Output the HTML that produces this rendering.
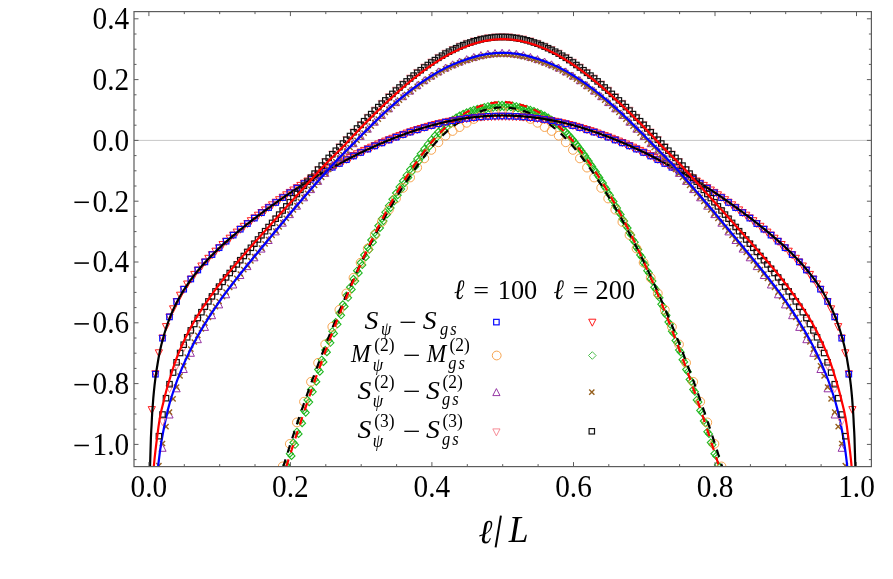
<!DOCTYPE html><html><head><meta charset="utf-8"><title>plot</title><style>html,body{margin:0;padding:0;background:#fff}svg{display:block;will-change:transform}text{font-family:"Liberation Serif",serif;fill:#000}</style></head><body>
<svg width="893" height="579" viewBox="0 0 893 579">
<defs>
<clipPath id="cp"><rect x="134.0" y="11.6" width="737.4" height="455.0"/></clipPath>
<rect id="mA" x="-2.75" y="-2.75" width="5.5" height="5.5" fill="none" stroke="#0a0aff" stroke-width="1.2"/>
<path id="mB" d="M-3.6 -3.4H3.6L0 3.6Z" fill="none" stroke="#ff1a1a" stroke-width="1"/>
<circle id="mC" r="4.4" fill="none" stroke="#f59a3c" stroke-width="0.9"/>
<path id="mD" d="M0 -3.5L3.5 0L0 3.5L-3.5 0Z" fill="none" stroke="#22b822" stroke-width="1.1"/>
<path id="mD2" d="M0 -3.8L3.8 0L0 3.8L-3.8 0Z" fill="none" stroke="#3cb83c" stroke-width="0.9"/>
<path id="mE" d="M-3.6 3.4H3.6L0 -3.6Z" fill="none" stroke="#8a1f9a" stroke-width="0.9"/>
<path id="mF" d="M-2.6 -2.6L2.6 2.6M-2.6 2.6L2.6 -2.6" fill="none" stroke="#96601e" stroke-width="1.4"/>
<path id="mG" d="M-3.6 -3.4H3.6L0 3.6Z" fill="none" stroke="#f5808c" stroke-width="0.9"/>
<rect id="mH" x="-2.7" y="-2.7" width="5.4" height="5.4" fill="none" stroke="#111" stroke-width="1.2"/>
</defs>
<rect width="893" height="579" fill="#fff"/>
<line x1="134.0" y1="140.4" x2="871.4" y2="140.4" stroke="#c8c8c8" stroke-width="1"/>
<g clip-path="url(#cp)">
<use href="#mD" x="272.1" y="511.0"/>
<use href="#mD" x="273.8" y="513.2"/>
<use href="#mD" x="275.7" y="499.3"/>
<use href="#mD" x="277.4" y="501.5"/>
<use href="#mD" x="279.2" y="487.7"/>
<use href="#mD" x="280.9" y="489.9"/>
<use href="#mD" x="282.7" y="476.2"/>
<use href="#mD" x="284.4" y="478.4"/>
<use href="#mD" x="286.3" y="464.9"/>
<use href="#mD" x="288.0" y="467.1"/>
<use href="#mD" x="289.8" y="453.7"/>
<use href="#mD" x="291.5" y="455.9"/>
<use href="#mD" x="293.4" y="442.6"/>
<use href="#mD" x="295.1" y="444.8"/>
<use href="#mD" x="296.9" y="431.7"/>
<use href="#mD" x="298.6" y="433.9"/>
<use href="#mD" x="300.4" y="421.0"/>
<use href="#mD" x="302.1" y="423.2"/>
<use href="#mD" x="304.0" y="410.4"/>
<use href="#mD" x="305.7" y="412.6"/>
<use href="#mD" x="307.5" y="399.9"/>
<use href="#mD" x="309.2" y="402.1"/>
<use href="#mD" x="311.0" y="389.6"/>
<use href="#mD" x="312.7" y="391.8"/>
<use href="#mD" x="314.6" y="379.5"/>
<use href="#mD" x="316.3" y="381.7"/>
<use href="#mD" x="318.1" y="369.5"/>
<use href="#mD" x="319.8" y="371.7"/>
<use href="#mD" x="321.7" y="359.7"/>
<use href="#mD" x="323.4" y="361.9"/>
<use href="#mD" x="325.2" y="350.0"/>
<use href="#mD" x="326.9" y="352.2"/>
<use href="#mD" x="328.7" y="340.6"/>
<use href="#mD" x="330.4" y="342.8"/>
<use href="#mD" x="332.3" y="331.2"/>
<use href="#mD" x="334.0" y="333.4"/>
<use href="#mD" x="335.8" y="322.1"/>
<use href="#mD" x="337.5" y="324.3"/>
<use href="#mD" x="339.4" y="313.1"/>
<use href="#mD" x="341.1" y="315.3"/>
<use href="#mD" x="342.9" y="304.3"/>
<use href="#mD" x="344.6" y="306.5"/>
<use href="#mD" x="346.4" y="295.6"/>
<use href="#mD" x="348.1" y="297.8"/>
<use href="#mD" x="350.0" y="287.2"/>
<use href="#mD" x="351.7" y="289.4"/>
<use href="#mD" x="353.5" y="278.9"/>
<use href="#mD" x="355.2" y="281.1"/>
<use href="#mD" x="357.0" y="270.7"/>
<use href="#mD" x="358.7" y="272.9"/>
<use href="#mD" x="360.6" y="262.8"/>
<use href="#mD" x="362.3" y="265.0"/>
<use href="#mD" x="364.1" y="255.0"/>
<use href="#mD" x="365.8" y="257.2"/>
<use href="#mD" x="367.7" y="247.4"/>
<use href="#mD" x="369.4" y="249.6"/>
<use href="#mD" x="371.2" y="240.0"/>
<use href="#mD" x="372.9" y="242.2"/>
<use href="#mD" x="374.7" y="232.8"/>
<use href="#mD" x="376.4" y="235.0"/>
<use href="#mD" x="378.3" y="225.8"/>
<use href="#mD" x="380.0" y="228.0"/>
<use href="#mD" x="381.8" y="218.9"/>
<use href="#mD" x="383.5" y="221.1"/>
<use href="#mD" x="385.3" y="212.2"/>
<use href="#mD" x="387.0" y="214.4"/>
<use href="#mD" x="388.9" y="205.7"/>
<use href="#mD" x="390.6" y="207.9"/>
<use href="#mD" x="392.4" y="199.3"/>
<use href="#mD" x="394.1" y="201.5"/>
<use href="#mD" x="396.0" y="193.0"/>
<use href="#mD" x="397.7" y="195.2"/>
<use href="#mD" x="399.5" y="186.9"/>
<use href="#mD" x="401.2" y="189.1"/>
<use href="#mD" x="403.0" y="180.9"/>
<use href="#mD" x="404.7" y="183.1"/>
<use href="#mD" x="406.6" y="175.2"/>
<use href="#mD" x="408.3" y="177.4"/>
<use href="#mD" x="410.1" y="169.6"/>
<use href="#mD" x="411.8" y="171.8"/>
<use href="#mD" x="413.6" y="164.2"/>
<use href="#mD" x="415.3" y="166.4"/>
<use href="#mD" x="417.2" y="158.9"/>
<use href="#mD" x="418.9" y="161.1"/>
<use href="#mD" x="420.7" y="153.8"/>
<use href="#mD" x="422.4" y="156.0"/>
<use href="#mD" x="424.3" y="148.9"/>
<use href="#mD" x="426.0" y="151.1"/>
<use href="#mD" x="427.8" y="144.2"/>
<use href="#mD" x="429.5" y="146.4"/>
<use href="#mD" x="431.3" y="139.7"/>
<use href="#mD" x="433.0" y="141.9"/>
<use href="#mD" x="434.9" y="135.6"/>
<use href="#mD" x="436.6" y="137.8"/>
<use href="#mD" x="438.4" y="131.8"/>
<use href="#mD" x="440.1" y="134.0"/>
<use href="#mD" x="442.0" y="128.2"/>
<use href="#mD" x="443.7" y="130.4"/>
<use href="#mD" x="445.5" y="124.8"/>
<use href="#mD" x="447.2" y="127.0"/>
<use href="#mD" x="449.0" y="122.1"/>
<use href="#mD" x="450.7" y="124.3"/>
<use href="#mD" x="452.6" y="119.7"/>
<use href="#mD" x="454.3" y="121.9"/>
<use href="#mD" x="456.1" y="117.5"/>
<use href="#mD" x="457.8" y="119.7"/>
<use href="#mD" x="459.6" y="115.5"/>
<use href="#mD" x="461.3" y="117.7"/>
<use href="#mD" x="463.2" y="113.8"/>
<use href="#mD" x="464.9" y="116.0"/>
<use href="#mD" x="466.7" y="112.3"/>
<use href="#mD" x="468.4" y="114.5"/>
<use href="#mD" x="470.3" y="111.0"/>
<use href="#mD" x="472.0" y="113.2"/>
<use href="#mD" x="473.8" y="109.8"/>
<use href="#mD" x="475.5" y="112.0"/>
<use href="#mD" x="477.3" y="108.9"/>
<use href="#mD" x="479.0" y="111.1"/>
<use href="#mD" x="480.9" y="108.1"/>
<use href="#mD" x="482.6" y="110.3"/>
<use href="#mD" x="484.4" y="107.1"/>
<use href="#mD" x="486.1" y="109.3"/>
<use href="#mD" x="487.9" y="106.2"/>
<use href="#mD" x="489.6" y="108.4"/>
<use href="#mD" x="491.5" y="105.6"/>
<use href="#mD" x="493.2" y="107.8"/>
<use href="#mD" x="495.0" y="105.1"/>
<use href="#mD" x="496.7" y="107.3"/>
<use href="#mD" x="498.6" y="104.9"/>
<use href="#mD" x="500.3" y="107.1"/>
<use href="#mD" x="502.1" y="104.8"/>
<use href="#mD" x="503.8" y="107.0"/>
<use href="#mD" x="505.6" y="104.9"/>
<use href="#mD" x="507.3" y="107.1"/>
<use href="#mD" x="509.2" y="105.1"/>
<use href="#mD" x="510.9" y="107.3"/>
<use href="#mD" x="512.7" y="105.6"/>
<use href="#mD" x="514.4" y="107.8"/>
<use href="#mD" x="516.3" y="106.2"/>
<use href="#mD" x="518.0" y="108.4"/>
<use href="#mD" x="519.8" y="107.1"/>
<use href="#mD" x="521.5" y="109.3"/>
<use href="#mD" x="523.3" y="108.1"/>
<use href="#mD" x="525.0" y="110.3"/>
<use href="#mD" x="526.9" y="108.9"/>
<use href="#mD" x="528.6" y="111.1"/>
<use href="#mD" x="530.4" y="109.8"/>
<use href="#mD" x="532.1" y="112.0"/>
<use href="#mD" x="533.9" y="111.0"/>
<use href="#mD" x="535.6" y="113.2"/>
<use href="#mD" x="537.5" y="112.3"/>
<use href="#mD" x="539.2" y="114.5"/>
<use href="#mD" x="541.0" y="113.8"/>
<use href="#mD" x="542.7" y="116.0"/>
<use href="#mD" x="544.6" y="115.5"/>
<use href="#mD" x="546.3" y="117.7"/>
<use href="#mD" x="548.1" y="117.5"/>
<use href="#mD" x="549.8" y="119.7"/>
<use href="#mD" x="551.6" y="119.7"/>
<use href="#mD" x="553.3" y="121.9"/>
<use href="#mD" x="555.2" y="122.1"/>
<use href="#mD" x="556.9" y="124.3"/>
<use href="#mD" x="558.7" y="124.8"/>
<use href="#mD" x="560.4" y="127.0"/>
<use href="#mD" x="562.2" y="128.2"/>
<use href="#mD" x="563.9" y="130.4"/>
<use href="#mD" x="565.8" y="131.8"/>
<use href="#mD" x="567.5" y="134.0"/>
<use href="#mD" x="569.3" y="135.6"/>
<use href="#mD" x="571.0" y="137.8"/>
<use href="#mD" x="572.9" y="139.7"/>
<use href="#mD" x="574.6" y="141.9"/>
<use href="#mD" x="576.4" y="144.2"/>
<use href="#mD" x="578.1" y="146.4"/>
<use href="#mD" x="579.9" y="148.9"/>
<use href="#mD" x="581.6" y="151.1"/>
<use href="#mD" x="583.5" y="153.8"/>
<use href="#mD" x="585.2" y="156.0"/>
<use href="#mD" x="587.0" y="158.9"/>
<use href="#mD" x="588.7" y="161.1"/>
<use href="#mD" x="590.5" y="164.2"/>
<use href="#mD" x="592.2" y="166.4"/>
<use href="#mD" x="594.1" y="169.6"/>
<use href="#mD" x="595.8" y="171.8"/>
<use href="#mD" x="597.6" y="175.2"/>
<use href="#mD" x="599.3" y="177.4"/>
<use href="#mD" x="601.2" y="180.9"/>
<use href="#mD" x="602.9" y="183.1"/>
<use href="#mD" x="604.7" y="186.9"/>
<use href="#mD" x="606.4" y="189.1"/>
<use href="#mD" x="608.2" y="193.0"/>
<use href="#mD" x="609.9" y="195.2"/>
<use href="#mD" x="611.8" y="199.3"/>
<use href="#mD" x="613.5" y="201.5"/>
<use href="#mD" x="615.3" y="205.7"/>
<use href="#mD" x="617.0" y="207.9"/>
<use href="#mD" x="618.9" y="212.2"/>
<use href="#mD" x="620.6" y="214.4"/>
<use href="#mD" x="622.4" y="218.9"/>
<use href="#mD" x="624.1" y="221.1"/>
<use href="#mD" x="625.9" y="225.8"/>
<use href="#mD" x="627.6" y="228.0"/>
<use href="#mD" x="629.5" y="232.8"/>
<use href="#mD" x="631.2" y="235.0"/>
<use href="#mD" x="633.0" y="240.0"/>
<use href="#mD" x="634.7" y="242.2"/>
<use href="#mD" x="636.5" y="247.4"/>
<use href="#mD" x="638.2" y="249.6"/>
<use href="#mD" x="640.1" y="255.0"/>
<use href="#mD" x="641.8" y="257.2"/>
<use href="#mD" x="643.6" y="262.8"/>
<use href="#mD" x="645.3" y="265.0"/>
<use href="#mD" x="647.2" y="270.7"/>
<use href="#mD" x="648.9" y="272.9"/>
<use href="#mD" x="650.7" y="278.9"/>
<use href="#mD" x="652.4" y="281.1"/>
<use href="#mD" x="654.2" y="287.2"/>
<use href="#mD" x="655.9" y="289.4"/>
<use href="#mD" x="657.8" y="295.6"/>
<use href="#mD" x="659.5" y="297.8"/>
<use href="#mD" x="661.3" y="304.3"/>
<use href="#mD" x="663.0" y="306.5"/>
<use href="#mD" x="664.8" y="313.1"/>
<use href="#mD" x="666.5" y="315.3"/>
<use href="#mD" x="668.4" y="322.1"/>
<use href="#mD" x="670.1" y="324.3"/>
<use href="#mD" x="671.9" y="331.2"/>
<use href="#mD" x="673.6" y="333.4"/>
<use href="#mD" x="675.5" y="340.6"/>
<use href="#mD" x="677.2" y="342.8"/>
<use href="#mD" x="679.0" y="350.0"/>
<use href="#mD" x="680.7" y="352.2"/>
<use href="#mD" x="682.5" y="359.7"/>
<use href="#mD" x="684.2" y="361.9"/>
<use href="#mD" x="686.1" y="369.5"/>
<use href="#mD" x="687.8" y="371.7"/>
<use href="#mD" x="689.6" y="379.5"/>
<use href="#mD" x="691.3" y="381.7"/>
<use href="#mD" x="693.2" y="389.6"/>
<use href="#mD" x="694.9" y="391.8"/>
<use href="#mD" x="696.7" y="399.9"/>
<use href="#mD" x="698.4" y="402.1"/>
<use href="#mD" x="700.2" y="410.4"/>
<use href="#mD" x="701.9" y="412.6"/>
<use href="#mD" x="703.8" y="421.0"/>
<use href="#mD" x="705.5" y="423.2"/>
<use href="#mD" x="707.3" y="431.7"/>
<use href="#mD" x="709.0" y="433.9"/>
<use href="#mD" x="710.8" y="442.6"/>
<use href="#mD" x="712.5" y="444.8"/>
<use href="#mD" x="714.4" y="453.7"/>
<use href="#mD" x="716.1" y="455.9"/>
<use href="#mD" x="717.9" y="464.9"/>
<use href="#mD" x="719.6" y="467.1"/>
<use href="#mD" x="721.5" y="476.2"/>
<use href="#mD" x="723.2" y="478.4"/>
<use href="#mD" x="725.0" y="487.7"/>
<use href="#mD" x="726.7" y="489.9"/>
<use href="#mD" x="728.5" y="499.3"/>
<use href="#mD" x="730.2" y="501.5"/>
<use href="#mD" x="732.1" y="511.0"/>
<use href="#mD" x="733.8" y="513.2"/>
<use href="#mC" x="282.7" y="466.4"/>
<use href="#mC" x="289.8" y="443.9"/>
<use href="#mC" x="296.9" y="422.4"/>
<use href="#mC" x="304.0" y="401.7"/>
<use href="#mC" x="311.0" y="381.8"/>
<use href="#mC" x="318.1" y="362.8"/>
<use href="#mC" x="325.2" y="344.4"/>
<use href="#mC" x="332.3" y="326.8"/>
<use href="#mC" x="339.4" y="309.8"/>
<use href="#mC" x="346.4" y="293.4"/>
<use href="#mC" x="353.5" y="277.8"/>
<use href="#mC" x="360.6" y="262.7"/>
<use href="#mC" x="367.7" y="248.5"/>
<use href="#mC" x="374.7" y="235.0"/>
<use href="#mC" x="381.8" y="222.0"/>
<use href="#mC" x="388.9" y="209.7"/>
<use href="#mC" x="396.0" y="198.5"/>
<use href="#mC" x="403.0" y="187.9"/>
<use href="#mC" x="410.1" y="177.5"/>
<use href="#mC" x="417.2" y="167.6"/>
<use href="#mC" x="424.3" y="158.4"/>
<use href="#mC" x="431.3" y="149.9"/>
<use href="#mC" x="438.4" y="142.3"/>
<use href="#mC" x="445.5" y="135.7"/>
<use href="#mC" x="452.6" y="131.0"/>
<use href="#mC" x="459.6" y="127.1"/>
<use href="#mC" x="466.7" y="122.8"/>
<use href="#mC" x="473.8" y="119.0"/>
<use href="#mC" x="480.9" y="116.0"/>
<use href="#mC" x="487.9" y="113.7"/>
<use href="#mC" x="495.0" y="112.1"/>
<use href="#mC" x="502.1" y="111.4"/>
<use href="#mC" x="509.2" y="112.1"/>
<use href="#mC" x="516.3" y="113.7"/>
<use href="#mC" x="523.3" y="116.0"/>
<use href="#mC" x="530.4" y="119.0"/>
<use href="#mC" x="537.5" y="122.8"/>
<use href="#mC" x="544.6" y="127.1"/>
<use href="#mC" x="551.6" y="131.0"/>
<use href="#mC" x="558.7" y="135.7"/>
<use href="#mC" x="565.8" y="142.3"/>
<use href="#mC" x="572.9" y="149.9"/>
<use href="#mC" x="579.9" y="158.4"/>
<use href="#mC" x="587.0" y="167.6"/>
<use href="#mC" x="594.1" y="177.5"/>
<use href="#mC" x="601.2" y="187.9"/>
<use href="#mC" x="608.2" y="198.5"/>
<use href="#mC" x="615.3" y="209.7"/>
<use href="#mC" x="622.4" y="222.0"/>
<use href="#mC" x="629.5" y="235.0"/>
<use href="#mC" x="636.5" y="248.5"/>
<use href="#mC" x="643.6" y="262.7"/>
<use href="#mC" x="650.7" y="277.8"/>
<use href="#mC" x="657.8" y="293.4"/>
<use href="#mC" x="664.8" y="309.8"/>
<use href="#mC" x="671.9" y="326.8"/>
<use href="#mC" x="679.0" y="344.4"/>
<use href="#mC" x="686.1" y="362.8"/>
<use href="#mC" x="693.2" y="381.8"/>
<use href="#mC" x="700.2" y="401.7"/>
<use href="#mC" x="707.3" y="422.4"/>
<use href="#mC" x="714.4" y="443.9"/>
<use href="#mC" x="721.5" y="466.4"/>
<path d="M283.3 466.6 L284.4 463.0 L285.5 459.5 L286.6 456.0 L287.7 452.5 L288.8 449.0 L289.9 445.6 L291.0 442.2 L292.1 438.8 L293.2 435.4 L294.3 432.0 L295.4 428.7 L296.5 425.4 L297.6 422.1 L298.7 418.8 L299.8 415.6 L300.9 412.3 L302.0 409.1 L303.1 406.0 L304.2 402.8 L305.3 399.6 L306.4 396.5 L307.5 393.4 L308.6 390.3 L309.7 387.3 L310.8 384.2 L311.9 381.2 L313.0 378.2 L314.1 375.2 L315.2 372.2 L316.3 369.3 L317.4 366.3 L318.5 363.4 L319.6 360.5 L320.7 357.6 L321.8 354.7 L322.9 351.9 L324.0 349.1 L325.1 346.2 L326.2 343.4 L327.3 340.7 L328.4 337.9 L329.5 335.1 L330.6 332.4 L331.7 329.7 L332.8 327.0 L333.9 324.3 L335.0 321.6 L336.1 319.0 L337.2 316.3 L338.3 313.7 L339.4 311.1 L340.5 308.5 L341.6 306.0 L342.7 303.4 L343.8 300.9 L344.9 298.3 L346.0 295.8 L347.1 293.3 L348.2 290.9 L349.3 288.4 L350.4 285.9 L351.5 283.5 L352.6 281.1 L353.7 278.7 L354.8 276.3 L355.9 273.9 L357.0 271.6 L358.1 269.2 L359.2 266.9 L360.3 264.6 L361.4 262.3 L362.5 260.0 L363.6 257.8 L364.7 255.5 L365.8 253.3 L366.9 251.1 L368.0 248.9 L369.1 246.7 L370.2 244.5 L371.3 242.3 L372.4 240.2 L373.5 238.1 L374.6 236.0 L375.7 233.9 L376.8 231.8 L377.9 229.7 L379.0 227.7 L380.1 225.6 L381.2 223.6 L382.3 221.6 L383.4 219.6 L384.5 217.6 L385.6 215.7 L386.7 213.7 L387.8 211.8 L388.9 209.9 L390.0 208.0 L391.1 206.1 L392.2 204.3 L393.3 202.4 L394.4 200.6 L395.5 198.8 L396.6 197.0 L397.7 195.2 L398.8 193.4 L399.9 191.6 L401.0 189.9 L402.1 188.2 L403.2 186.4 L404.3 184.7 L405.4 183.1 L406.5 181.4 L407.6 179.7 L408.7 178.1 L409.8 176.5 L410.9 174.8 L412.0 173.2 L413.1 171.6 L414.2 170.1 L415.3 168.5 L416.4 167.0 L417.5 165.4 L418.6 163.9 L419.7 162.4 L420.8 161.0 L421.9 159.5 L423.0 158.0 L424.1 156.6 L425.2 155.2 L426.3 153.8 L427.4 152.4 L428.5 151.0 L429.6 149.7 L430.7 148.4 L431.8 147.1 L432.9 145.8 L434.0 144.5 L435.1 143.3 L436.2 142.1 L437.3 140.9 L438.4 139.7 L439.5 138.6 L440.6 137.4 L441.7 136.3 L442.8 135.3 L443.9 134.2 L445.0 133.2 L446.1 132.2 L447.2 131.2 L448.3 130.3 L449.4 129.3 L450.5 128.4 L451.6 127.6 L452.7 126.7 L453.8 125.9 L454.9 125.0 L456.0 124.2 L457.1 123.5 L458.2 122.7 L459.3 122.0 L460.4 121.3 L461.5 120.6 L462.6 119.9 L463.7 119.2 L464.8 118.6 L465.9 118.0 L467.0 117.4 L468.1 116.8 L469.2 116.2 L470.3 115.7 L471.4 115.1 L472.5 114.6 L473.6 114.1 L474.7 113.6 L475.8 113.2 L476.9 112.7 L478.0 112.3 L479.1 111.9 L480.2 111.5 L481.3 111.1 L482.4 110.7 L483.5 110.4 L484.6 110.1 L485.7 109.7 L486.8 109.5 L487.9 109.2 L489.0 108.9 L490.1 108.7 L491.2 108.5 L492.3 108.3 L493.4 108.1 L494.5 108.0 L495.6 107.8 L496.7 107.7 L497.8 107.6 L498.9 107.5 L500.0 107.5 L501.1 107.4 L502.2 107.4 L503.2 107.4 L504.3 107.4 L505.4 107.5 L506.5 107.5 L507.6 107.6 L508.7 107.7 L509.8 107.8 L510.9 108.0 L512.0 108.1 L513.1 108.3 L514.2 108.5 L515.3 108.7 L516.4 108.9 L517.5 109.2 L518.6 109.5 L519.7 109.7 L520.8 110.1 L521.9 110.4 L523.0 110.7 L524.1 111.1 L525.2 111.5 L526.3 111.9 L527.4 112.3 L528.5 112.7 L529.6 113.2 L530.7 113.6 L531.8 114.1 L532.9 114.6 L534.0 115.1 L535.1 115.7 L536.2 116.2 L537.3 116.8 L538.4 117.4 L539.5 118.0 L540.6 118.6 L541.7 119.2 L542.8 119.9 L543.9 120.6 L545.0 121.3 L546.1 122.0 L547.2 122.7 L548.3 123.5 L549.4 124.2 L550.5 125.0 L551.6 125.9 L552.7 126.7 L553.8 127.6 L554.9 128.4 L556.0 129.3 L557.1 130.3 L558.2 131.2 L559.3 132.2 L560.4 133.2 L561.5 134.2 L562.6 135.3 L563.7 136.3 L564.8 137.4 L565.9 138.6 L567.0 139.7 L568.1 140.9 L569.2 142.1 L570.3 143.3 L571.4 144.5 L572.5 145.8 L573.6 147.1 L574.7 148.4 L575.8 149.7 L576.9 151.0 L578.0 152.4 L579.1 153.8 L580.2 155.2 L581.3 156.6 L582.4 158.0 L583.5 159.5 L584.6 161.0 L585.7 162.4 L586.8 163.9 L587.9 165.4 L589.0 167.0 L590.1 168.5 L591.2 170.1 L592.3 171.6 L593.4 173.2 L594.5 174.8 L595.6 176.5 L596.7 178.1 L597.8 179.7 L598.9 181.4 L600.0 183.1 L601.1 184.7 L602.2 186.4 L603.3 188.2 L604.4 189.9 L605.5 191.6 L606.6 193.4 L607.7 195.2 L608.8 197.0 L609.9 198.8 L611.0 200.6 L612.1 202.4 L613.2 204.3 L614.3 206.1 L615.4 208.0 L616.5 209.9 L617.6 211.8 L618.7 213.7 L619.8 215.7 L620.9 217.6 L622.0 219.6 L623.1 221.6 L624.2 223.6 L625.3 225.6 L626.4 227.7 L627.5 229.7 L628.6 231.8 L629.7 233.9 L630.8 236.0 L631.9 238.1 L633.0 240.2 L634.1 242.3 L635.2 244.5 L636.3 246.7 L637.4 248.9 L638.5 251.1 L639.6 253.3 L640.7 255.5 L641.8 257.8 L642.9 260.0 L644.0 262.3 L645.1 264.6 L646.2 266.9 L647.3 269.2 L648.4 271.6 L649.5 273.9 L650.6 276.3 L651.7 278.7 L652.8 281.1 L653.9 283.5 L655.0 285.9 L656.1 288.4 L657.2 290.9 L658.3 293.3 L659.4 295.8 L660.5 298.3 L661.6 300.9 L662.7 303.4 L663.8 306.0 L664.9 308.5 L666.0 311.1 L667.1 313.7 L668.2 316.3 L669.3 319.0 L670.4 321.6 L671.5 324.3 L672.6 327.0 L673.7 329.7 L674.8 332.4 L675.9 335.1 L677.0 337.9 L678.1 340.7 L679.2 343.4 L680.3 346.2 L681.4 349.1 L682.5 351.9 L683.6 354.7 L684.7 357.6 L685.8 360.5 L686.9 363.4 L688.0 366.3 L689.1 369.3 L690.2 372.2 L691.3 375.2 L692.4 378.2 L693.5 381.2 L694.6 384.2 L695.7 387.3 L696.8 390.3 L697.9 393.4 L699.0 396.5 L700.1 399.6 L701.2 402.8 L702.3 406.0 L703.4 409.1 L704.5 412.3 L705.6 415.6 L706.7 418.8 L707.8 422.1 L708.9 425.4 L710.0 428.7 L711.1 432.0 L712.2 435.4 L713.3 438.8 L714.4 442.2 L715.5 445.6 L716.6 449.0 L717.7 452.5 L718.8 456.0 L719.9 459.5 L721.0 463.0 L722.1 466.6" fill="none" stroke="#000" stroke-width="2.2" stroke-dasharray="7.6 7.2"/>
<path d="M286.3 466.6 L287.4 463.1 L288.5 459.7 L289.6 456.3 L290.7 452.9 L291.8 449.5 L292.8 446.1 L293.9 442.7 L295.0 439.4 L296.1 436.0 L297.2 432.7 L298.3 429.4 L299.3 426.1 L300.4 422.8 L301.5 419.5 L302.6 416.2 L303.7 413.0 L304.8 409.8 L305.9 406.6 L306.9 403.4 L308.0 400.2 L309.1 397.0 L310.2 393.8 L311.3 390.7 L312.4 387.6 L313.4 384.5 L314.5 381.4 L315.6 378.3 L316.7 375.2 L317.8 372.1 L318.9 369.1 L320.0 366.1 L321.0 363.1 L322.1 360.1 L323.2 357.1 L324.3 354.1 L325.4 351.2 L326.5 348.3 L327.5 345.3 L328.6 342.4 L329.7 339.6 L330.8 336.7 L331.9 333.8 L333.0 331.0 L334.1 328.2 L335.1 325.4 L336.2 322.6 L337.3 319.8 L338.4 317.0 L339.5 314.3 L340.6 311.6 L341.6 308.8 L342.7 306.2 L343.8 303.5 L344.9 300.8 L346.0 298.2 L347.1 295.5 L348.2 292.9 L349.2 290.3 L350.3 287.7 L351.4 285.2 L352.5 282.6 L353.6 280.1 L354.7 277.6 L355.7 275.1 L356.8 272.6 L357.9 270.1 L359.0 267.7 L360.1 265.2 L361.2 262.8 L362.3 260.4 L363.3 258.0 L364.4 255.7 L365.5 253.3 L366.6 251.0 L367.7 248.7 L368.8 246.4 L369.8 244.1 L370.9 241.8 L372.0 239.6 L373.1 237.3 L374.2 235.1 L375.3 232.9 L376.4 230.8 L377.4 228.6 L378.5 226.5 L379.6 224.3 L380.7 222.2 L381.8 220.1 L382.9 218.1 L383.9 216.0 L385.0 214.0 L386.1 211.9 L387.2 209.9 L388.3 207.9 L389.4 206.0 L390.4 204.0 L391.5 202.1 L392.6 200.2 L393.7 198.3 L394.8 196.4 L395.9 194.5 L397.0 192.6 L398.0 190.8 L399.1 189.0 L400.2 187.2 L401.3 185.4 L402.4 183.6 L403.5 181.9 L404.5 180.1 L405.6 178.4 L406.7 176.7 L407.8 175.0 L408.9 173.4 L410.0 171.7 L411.1 170.1 L412.1 168.4 L413.2 166.8 L414.3 165.2 L415.4 163.7 L416.5 162.1 L417.6 160.5 L418.6 159.0 L419.7 157.5 L420.8 156.0 L421.9 154.5 L423.0 153.1 L424.1 151.6 L425.2 150.2 L426.2 148.8 L427.3 147.4 L428.4 146.0 L429.5 144.7 L430.6 143.3 L431.7 142.0 L432.7 140.8 L433.8 139.5 L434.9 138.2 L436.0 137.0 L437.1 135.8 L438.2 134.7 L439.3 133.5 L440.3 132.4 L441.4 131.3 L442.5 130.2 L443.6 129.2 L444.7 128.1 L445.8 127.1 L446.8 126.2 L447.9 125.2 L449.0 124.3 L450.1 123.4 L451.2 122.5 L452.3 121.6 L453.4 120.8 L454.4 120.0 L455.5 119.2 L456.6 118.4 L457.7 117.7 L458.8 116.9 L459.9 116.2 L460.9 115.5 L462.0 114.9 L463.1 114.2 L464.2 113.6 L465.3 112.9 L466.4 112.3 L467.5 111.8 L468.5 111.2 L469.6 110.6 L470.7 110.1 L471.8 109.6 L472.9 109.1 L474.0 108.6 L475.0 108.1 L476.1 107.7 L477.2 107.2 L478.3 106.8 L479.4 106.4 L480.5 106.0 L481.6 105.7 L482.6 105.3 L483.7 105.0 L484.8 104.7 L485.9 104.4 L487.0 104.1 L488.1 103.8 L489.1 103.6 L490.2 103.4 L491.3 103.2 L492.4 103.0 L493.5 102.8 L494.6 102.7 L495.7 102.5 L496.7 102.4 L497.8 102.3 L498.9 102.2 L500.0 102.2 L501.1 102.1 L502.2 102.1 L503.2 102.1 L504.3 102.1 L505.4 102.2 L506.5 102.2 L507.6 102.3 L508.7 102.4 L509.7 102.5 L510.8 102.7 L511.9 102.8 L513.0 103.0 L514.1 103.2 L515.2 103.4 L516.3 103.6 L517.3 103.8 L518.4 104.1 L519.5 104.4 L520.6 104.7 L521.7 105.0 L522.8 105.3 L523.8 105.7 L524.9 106.0 L526.0 106.4 L527.1 106.8 L528.2 107.2 L529.3 107.7 L530.4 108.1 L531.4 108.6 L532.5 109.1 L533.6 109.6 L534.7 110.1 L535.8 110.6 L536.9 111.2 L537.9 111.8 L539.0 112.3 L540.1 112.9 L541.2 113.6 L542.3 114.2 L543.4 114.9 L544.5 115.5 L545.5 116.2 L546.6 116.9 L547.7 117.7 L548.8 118.4 L549.9 119.2 L551.0 120.0 L552.0 120.8 L553.1 121.6 L554.2 122.5 L555.3 123.4 L556.4 124.3 L557.5 125.2 L558.6 126.2 L559.6 127.1 L560.7 128.1 L561.8 129.2 L562.9 130.2 L564.0 131.3 L565.1 132.4 L566.1 133.5 L567.2 134.7 L568.3 135.8 L569.4 137.0 L570.5 138.2 L571.6 139.5 L572.7 140.8 L573.7 142.0 L574.8 143.3 L575.9 144.7 L577.0 146.0 L578.1 147.4 L579.2 148.8 L580.2 150.2 L581.3 151.6 L582.4 153.1 L583.5 154.5 L584.6 156.0 L585.7 157.5 L586.8 159.0 L587.8 160.5 L588.9 162.1 L590.0 163.7 L591.1 165.2 L592.2 166.8 L593.3 168.4 L594.3 170.1 L595.4 171.7 L596.5 173.4 L597.6 175.0 L598.7 176.7 L599.8 178.4 L600.9 180.1 L601.9 181.9 L603.0 183.6 L604.1 185.4 L605.2 187.2 L606.3 189.0 L607.4 190.8 L608.4 192.6 L609.5 194.5 L610.6 196.4 L611.7 198.3 L612.8 200.2 L613.9 202.1 L615.0 204.0 L616.0 206.0 L617.1 207.9 L618.2 209.9 L619.3 211.9 L620.4 214.0 L621.5 216.0 L622.5 218.1 L623.6 220.1 L624.7 222.2 L625.8 224.3 L626.9 226.5 L628.0 228.6 L629.0 230.8 L630.1 232.9 L631.2 235.1 L632.3 237.3 L633.4 239.6 L634.5 241.8 L635.6 244.1 L636.6 246.4 L637.7 248.7 L638.8 251.0 L639.9 253.3 L641.0 255.7 L642.1 258.0 L643.1 260.4 L644.2 262.8 L645.3 265.2 L646.4 267.7 L647.5 270.1 L648.6 272.6 L649.7 275.1 L650.7 277.6 L651.8 280.1 L652.9 282.6 L654.0 285.2 L655.1 287.7 L656.2 290.3 L657.2 292.9 L658.3 295.5 L659.4 298.2 L660.5 300.8 L661.6 303.5 L662.7 306.2 L663.8 308.8 L664.8 311.6 L665.9 314.3 L667.0 317.0 L668.1 319.8 L669.2 322.6 L670.3 325.4 L671.3 328.2 L672.4 331.0 L673.5 333.8 L674.6 336.7 L675.7 339.6 L676.8 342.4 L677.9 345.3 L678.9 348.3 L680.0 351.2 L681.1 354.1 L682.2 357.1 L683.3 360.1 L684.4 363.1 L685.4 366.1 L686.5 369.1 L687.6 372.1 L688.7 375.2 L689.8 378.3 L690.9 381.4 L692.0 384.5 L693.0 387.6 L694.1 390.7 L695.2 393.8 L696.3 397.0 L697.4 400.2 L698.5 403.4 L699.5 406.6 L700.6 409.8 L701.7 413.0 L702.8 416.2 L703.9 419.5 L705.0 422.8 L706.1 426.1 L707.1 429.4 L708.2 432.7 L709.3 436.0 L710.4 439.4 L711.5 442.7 L712.6 446.1 L713.6 449.5 L714.7 452.9 L715.8 456.3 L716.9 459.7 L718.0 463.1 L719.1 466.6" fill="none" stroke="#ff0000" stroke-width="2.2" stroke-dasharray="7.6 7.2"/>
<use href="#mB" x="151.8" y="410.0"/>
<use href="#mB" x="155.4" y="374.2"/>
<use href="#mB" x="158.9" y="353.2"/>
<use href="#mB" x="162.5" y="338.4"/>
<use href="#mB" x="166.0" y="327.0"/>
<use href="#mB" x="169.5" y="317.4"/>
<use href="#mB" x="173.1" y="309.2"/>
<use href="#mB" x="176.6" y="302.0"/>
<use href="#mB" x="180.1" y="295.6"/>
<use href="#mB" x="183.7" y="289.7"/>
<use href="#mB" x="187.2" y="284.4"/>
<use href="#mB" x="190.8" y="279.5"/>
<use href="#mB" x="194.3" y="274.8"/>
<use href="#mB" x="197.8" y="270.5"/>
<use href="#mB" x="201.4" y="266.4"/>
<use href="#mB" x="204.9" y="262.4"/>
<use href="#mB" x="208.4" y="258.7"/>
<use href="#mB" x="212.0" y="255.1"/>
<use href="#mB" x="215.5" y="251.6"/>
<use href="#mB" x="219.1" y="248.2"/>
<use href="#mB" x="222.6" y="244.9"/>
<use href="#mB" x="226.1" y="241.7"/>
<use href="#mB" x="229.7" y="238.6"/>
<use href="#mB" x="233.2" y="235.5"/>
<use href="#mB" x="236.8" y="232.5"/>
<use href="#mB" x="240.3" y="229.6"/>
<use href="#mB" x="243.8" y="226.7"/>
<use href="#mB" x="247.4" y="223.9"/>
<use href="#mB" x="250.9" y="221.1"/>
<use href="#mB" x="254.4" y="218.3"/>
<use href="#mB" x="258.0" y="215.6"/>
<use href="#mB" x="261.5" y="212.9"/>
<use href="#mB" x="265.1" y="210.3"/>
<use href="#mB" x="268.6" y="207.7"/>
<use href="#mB" x="272.1" y="205.2"/>
<use href="#mB" x="275.7" y="202.6"/>
<use href="#mB" x="279.2" y="200.1"/>
<use href="#mB" x="282.7" y="197.6"/>
<use href="#mB" x="286.3" y="195.2"/>
<use href="#mB" x="289.8" y="192.8"/>
<use href="#mB" x="293.4" y="190.4"/>
<use href="#mB" x="296.9" y="188.1"/>
<use href="#mB" x="300.4" y="185.8"/>
<use href="#mB" x="304.0" y="183.6"/>
<use href="#mB" x="307.5" y="181.4"/>
<use href="#mB" x="311.0" y="179.3"/>
<use href="#mB" x="314.6" y="177.2"/>
<use href="#mB" x="318.1" y="175.2"/>
<use href="#mB" x="321.7" y="173.2"/>
<use href="#mB" x="325.2" y="171.2"/>
<use href="#mB" x="328.7" y="169.2"/>
<use href="#mB" x="332.3" y="167.3"/>
<use href="#mB" x="335.8" y="165.4"/>
<use href="#mB" x="339.4" y="163.5"/>
<use href="#mB" x="342.9" y="161.5"/>
<use href="#mB" x="346.4" y="159.7"/>
<use href="#mB" x="350.0" y="157.8"/>
<use href="#mB" x="353.5" y="156.0"/>
<use href="#mB" x="357.0" y="154.2"/>
<use href="#mB" x="360.6" y="152.5"/>
<use href="#mB" x="364.1" y="150.8"/>
<use href="#mB" x="367.7" y="149.2"/>
<use href="#mB" x="371.2" y="147.6"/>
<use href="#mB" x="374.7" y="146.0"/>
<use href="#mB" x="378.3" y="144.4"/>
<use href="#mB" x="381.8" y="142.9"/>
<use href="#mB" x="385.3" y="141.5"/>
<use href="#mB" x="388.9" y="140.1"/>
<use href="#mB" x="392.4" y="138.7"/>
<use href="#mB" x="396.0" y="137.3"/>
<use href="#mB" x="399.5" y="136.0"/>
<use href="#mB" x="403.0" y="134.8"/>
<use href="#mB" x="406.6" y="133.5"/>
<use href="#mB" x="410.1" y="132.3"/>
<use href="#mB" x="413.6" y="131.1"/>
<use href="#mB" x="417.2" y="130.0"/>
<use href="#mB" x="420.7" y="128.9"/>
<use href="#mB" x="424.3" y="127.8"/>
<use href="#mB" x="427.8" y="126.8"/>
<use href="#mB" x="431.3" y="125.8"/>
<use href="#mB" x="434.9" y="124.9"/>
<use href="#mB" x="438.4" y="124.1"/>
<use href="#mB" x="442.0" y="123.2"/>
<use href="#mB" x="445.5" y="122.5"/>
<use href="#mB" x="449.0" y="121.7"/>
<use href="#mB" x="452.6" y="121.1"/>
<use href="#mB" x="456.1" y="120.5"/>
<use href="#mB" x="459.6" y="119.9"/>
<use href="#mB" x="463.2" y="119.4"/>
<use href="#mB" x="466.7" y="118.9"/>
<use href="#mB" x="470.3" y="118.5"/>
<use href="#mB" x="473.8" y="118.1"/>
<use href="#mB" x="477.3" y="117.7"/>
<use href="#mB" x="480.9" y="117.5"/>
<use href="#mB" x="484.4" y="117.2"/>
<use href="#mB" x="487.9" y="117.0"/>
<use href="#mB" x="491.5" y="116.9"/>
<use href="#mB" x="495.0" y="116.8"/>
<use href="#mB" x="498.6" y="116.7"/>
<use href="#mB" x="502.1" y="116.7"/>
<use href="#mB" x="505.6" y="116.7"/>
<use href="#mB" x="509.2" y="116.8"/>
<use href="#mB" x="512.7" y="116.9"/>
<use href="#mB" x="516.3" y="117.0"/>
<use href="#mB" x="519.8" y="117.2"/>
<use href="#mB" x="523.3" y="117.5"/>
<use href="#mB" x="526.9" y="117.7"/>
<use href="#mB" x="530.4" y="118.1"/>
<use href="#mB" x="533.9" y="118.5"/>
<use href="#mB" x="537.5" y="118.9"/>
<use href="#mB" x="541.0" y="119.4"/>
<use href="#mB" x="544.6" y="119.9"/>
<use href="#mB" x="548.1" y="120.5"/>
<use href="#mB" x="551.6" y="121.1"/>
<use href="#mB" x="555.2" y="121.7"/>
<use href="#mB" x="558.7" y="122.5"/>
<use href="#mB" x="562.2" y="123.2"/>
<use href="#mB" x="565.8" y="124.1"/>
<use href="#mB" x="569.3" y="124.9"/>
<use href="#mB" x="572.9" y="125.8"/>
<use href="#mB" x="576.4" y="126.8"/>
<use href="#mB" x="579.9" y="127.8"/>
<use href="#mB" x="583.5" y="128.9"/>
<use href="#mB" x="587.0" y="130.0"/>
<use href="#mB" x="590.5" y="131.1"/>
<use href="#mB" x="594.1" y="132.3"/>
<use href="#mB" x="597.6" y="133.5"/>
<use href="#mB" x="601.2" y="134.8"/>
<use href="#mB" x="604.7" y="136.0"/>
<use href="#mB" x="608.2" y="137.3"/>
<use href="#mB" x="611.8" y="138.7"/>
<use href="#mB" x="615.3" y="140.1"/>
<use href="#mB" x="618.9" y="141.5"/>
<use href="#mB" x="622.4" y="142.9"/>
<use href="#mB" x="625.9" y="144.4"/>
<use href="#mB" x="629.5" y="146.0"/>
<use href="#mB" x="633.0" y="147.6"/>
<use href="#mB" x="636.5" y="149.2"/>
<use href="#mB" x="640.1" y="150.8"/>
<use href="#mB" x="643.6" y="152.5"/>
<use href="#mB" x="647.2" y="154.2"/>
<use href="#mB" x="650.7" y="156.0"/>
<use href="#mB" x="654.2" y="157.8"/>
<use href="#mB" x="657.8" y="159.7"/>
<use href="#mB" x="661.3" y="161.5"/>
<use href="#mB" x="664.8" y="163.5"/>
<use href="#mB" x="668.4" y="165.4"/>
<use href="#mB" x="671.9" y="167.3"/>
<use href="#mB" x="675.5" y="169.2"/>
<use href="#mB" x="679.0" y="171.2"/>
<use href="#mB" x="682.5" y="173.2"/>
<use href="#mB" x="686.1" y="175.2"/>
<use href="#mB" x="689.6" y="177.2"/>
<use href="#mB" x="693.2" y="179.3"/>
<use href="#mB" x="696.7" y="181.4"/>
<use href="#mB" x="700.2" y="183.6"/>
<use href="#mB" x="703.8" y="185.8"/>
<use href="#mB" x="707.3" y="188.1"/>
<use href="#mB" x="710.8" y="190.4"/>
<use href="#mB" x="714.4" y="192.8"/>
<use href="#mB" x="717.9" y="195.2"/>
<use href="#mB" x="721.5" y="197.6"/>
<use href="#mB" x="725.0" y="200.1"/>
<use href="#mB" x="728.5" y="202.6"/>
<use href="#mB" x="732.1" y="205.2"/>
<use href="#mB" x="735.6" y="207.7"/>
<use href="#mB" x="739.1" y="210.3"/>
<use href="#mB" x="742.7" y="212.9"/>
<use href="#mB" x="746.2" y="215.6"/>
<use href="#mB" x="749.8" y="218.3"/>
<use href="#mB" x="753.3" y="221.1"/>
<use href="#mB" x="756.8" y="223.9"/>
<use href="#mB" x="760.4" y="226.7"/>
<use href="#mB" x="763.9" y="229.6"/>
<use href="#mB" x="767.4" y="232.5"/>
<use href="#mB" x="771.0" y="235.5"/>
<use href="#mB" x="774.5" y="238.6"/>
<use href="#mB" x="778.1" y="241.7"/>
<use href="#mB" x="781.6" y="244.9"/>
<use href="#mB" x="785.1" y="248.2"/>
<use href="#mB" x="788.7" y="251.6"/>
<use href="#mB" x="792.2" y="255.1"/>
<use href="#mB" x="795.8" y="258.7"/>
<use href="#mB" x="799.3" y="262.4"/>
<use href="#mB" x="802.8" y="266.4"/>
<use href="#mB" x="806.4" y="270.5"/>
<use href="#mB" x="809.9" y="274.8"/>
<use href="#mB" x="813.4" y="279.5"/>
<use href="#mB" x="817.0" y="284.4"/>
<use href="#mB" x="820.5" y="289.7"/>
<use href="#mB" x="824.1" y="295.6"/>
<use href="#mB" x="827.6" y="302.0"/>
<use href="#mB" x="831.1" y="309.2"/>
<use href="#mB" x="834.7" y="317.4"/>
<use href="#mB" x="838.2" y="327.0"/>
<use href="#mB" x="841.7" y="338.4"/>
<use href="#mB" x="845.3" y="353.2"/>
<use href="#mB" x="848.8" y="374.2"/>
<use href="#mB" x="852.4" y="410.0"/>
<use href="#mA" x="155.4" y="374.2"/>
<use href="#mA" x="162.5" y="338.2"/>
<use href="#mA" x="169.5" y="316.9"/>
<use href="#mA" x="176.6" y="301.5"/>
<use href="#mA" x="183.7" y="289.2"/>
<use href="#mA" x="190.8" y="279.0"/>
<use href="#mA" x="197.8" y="270.0"/>
<use href="#mA" x="204.9" y="261.9"/>
<use href="#mA" x="212.0" y="254.6"/>
<use href="#mA" x="219.1" y="247.7"/>
<use href="#mA" x="226.1" y="241.2"/>
<use href="#mA" x="233.2" y="235.1"/>
<use href="#mA" x="240.3" y="229.2"/>
<use href="#mA" x="247.4" y="223.6"/>
<use href="#mA" x="254.4" y="218.1"/>
<use href="#mA" x="261.5" y="212.7"/>
<use href="#mA" x="268.6" y="207.6"/>
<use href="#mA" x="275.7" y="202.5"/>
<use href="#mA" x="282.7" y="197.6"/>
<use href="#mA" x="289.8" y="192.8"/>
<use href="#mA" x="296.9" y="188.1"/>
<use href="#mA" x="304.0" y="183.6"/>
<use href="#mA" x="311.0" y="179.3"/>
<use href="#mA" x="318.1" y="175.2"/>
<use href="#mA" x="325.2" y="171.2"/>
<use href="#mA" x="332.3" y="167.3"/>
<use href="#mA" x="339.4" y="163.5"/>
<use href="#mA" x="346.4" y="159.7"/>
<use href="#mA" x="353.5" y="156.0"/>
<use href="#mA" x="360.6" y="152.5"/>
<use href="#mA" x="367.7" y="149.1"/>
<use href="#mA" x="374.7" y="145.9"/>
<use href="#mA" x="381.8" y="142.9"/>
<use href="#mA" x="388.9" y="140.0"/>
<use href="#mA" x="396.0" y="137.2"/>
<use href="#mA" x="403.0" y="134.6"/>
<use href="#mA" x="410.1" y="132.1"/>
<use href="#mA" x="417.2" y="129.8"/>
<use href="#mA" x="424.3" y="127.6"/>
<use href="#mA" x="431.3" y="125.6"/>
<use href="#mA" x="438.4" y="123.8"/>
<use href="#mA" x="445.5" y="122.1"/>
<use href="#mA" x="452.6" y="120.7"/>
<use href="#mA" x="459.6" y="119.5"/>
<use href="#mA" x="466.7" y="118.4"/>
<use href="#mA" x="473.8" y="117.6"/>
<use href="#mA" x="480.9" y="116.9"/>
<use href="#mA" x="487.9" y="116.4"/>
<use href="#mA" x="495.0" y="116.1"/>
<use href="#mA" x="502.1" y="116.0"/>
<use href="#mA" x="509.2" y="116.1"/>
<use href="#mA" x="516.3" y="116.4"/>
<use href="#mA" x="523.3" y="116.9"/>
<use href="#mA" x="530.4" y="117.6"/>
<use href="#mA" x="537.5" y="118.4"/>
<use href="#mA" x="544.6" y="119.5"/>
<use href="#mA" x="551.6" y="120.7"/>
<use href="#mA" x="558.7" y="122.1"/>
<use href="#mA" x="565.8" y="123.8"/>
<use href="#mA" x="572.9" y="125.6"/>
<use href="#mA" x="579.9" y="127.6"/>
<use href="#mA" x="587.0" y="129.8"/>
<use href="#mA" x="594.1" y="132.1"/>
<use href="#mA" x="601.2" y="134.6"/>
<use href="#mA" x="608.2" y="137.2"/>
<use href="#mA" x="615.3" y="140.0"/>
<use href="#mA" x="622.4" y="142.9"/>
<use href="#mA" x="629.5" y="145.9"/>
<use href="#mA" x="636.5" y="149.1"/>
<use href="#mA" x="643.6" y="152.5"/>
<use href="#mA" x="650.7" y="156.0"/>
<use href="#mA" x="657.8" y="159.7"/>
<use href="#mA" x="664.8" y="163.5"/>
<use href="#mA" x="671.9" y="167.3"/>
<use href="#mA" x="679.0" y="171.2"/>
<use href="#mA" x="686.1" y="175.2"/>
<use href="#mA" x="693.2" y="179.3"/>
<use href="#mA" x="700.2" y="183.6"/>
<use href="#mA" x="707.3" y="188.1"/>
<use href="#mA" x="714.4" y="192.8"/>
<use href="#mA" x="721.5" y="197.6"/>
<use href="#mA" x="728.5" y="202.5"/>
<use href="#mA" x="735.6" y="207.6"/>
<use href="#mA" x="742.7" y="212.7"/>
<use href="#mA" x="749.8" y="218.1"/>
<use href="#mA" x="756.8" y="223.6"/>
<use href="#mA" x="763.9" y="229.2"/>
<use href="#mA" x="771.0" y="235.1"/>
<use href="#mA" x="778.1" y="241.2"/>
<use href="#mA" x="785.1" y="247.7"/>
<use href="#mA" x="792.2" y="254.6"/>
<use href="#mA" x="799.3" y="261.9"/>
<use href="#mA" x="806.4" y="270.0"/>
<use href="#mA" x="813.4" y="279.0"/>
<use href="#mA" x="820.5" y="289.2"/>
<use href="#mA" x="827.6" y="301.5"/>
<use href="#mA" x="834.7" y="316.9"/>
<use href="#mA" x="841.7" y="338.2"/>
<use href="#mA" x="848.8" y="374.2"/>
<path d="M149.5 504.5 L149.5 497.9 L149.6 491.3 L149.7 484.6 L149.8 478.0 L150.0 471.3 L150.1 464.7 L150.3 458.0 L150.5 451.4 L150.7 444.8 L150.9 438.1 L151.2 431.5 L151.6 424.8 L151.9 418.2 L152.3 411.5 L152.8 404.9 L153.3 398.2 L153.9 391.6 L154.6 384.9 L155.4 378.3 L156.3 371.6 L157.4 365.0 L158.5 358.3 L159.8 351.6 L161.3 344.9 L163.1 338.2 L164.8 332.2 L166.5 326.9 L168.2 322.0 L169.9 317.5 L171.6 313.4 L173.3 309.5 L175.0 305.9 L176.7 302.5 L178.4 299.3 L180.1 296.2 L181.8 293.3 L183.5 290.5 L185.2 287.8 L186.9 285.3 L188.6 282.8 L190.3 280.4 L192.0 278.1 L193.7 275.9 L195.4 273.7 L197.1 271.6 L198.8 269.5 L200.5 267.5 L202.2 265.6 L203.9 263.7 L205.6 261.8 L207.3 260.0 L209.0 258.2 L210.7 256.5 L212.4 254.7 L214.1 253.0 L215.8 251.4 L217.5 249.7 L219.2 248.1 L220.9 246.5 L222.6 244.9 L224.3 243.4 L226.0 241.9 L227.7 240.4 L229.4 238.9 L231.2 237.4 L232.9 235.9 L234.6 234.5 L236.3 233.0 L238.0 231.6 L239.7 230.2 L241.4 228.8 L243.1 227.5 L244.8 226.1 L246.5 224.7 L248.2 223.4 L249.9 222.1 L251.6 220.7 L253.3 219.4 L255.0 218.1 L256.7 216.8 L258.4 215.5 L260.1 214.3 L261.8 213.0 L263.5 211.7 L265.2 210.5 L266.9 209.2 L268.6 208.0 L270.3 206.8 L272.0 205.5 L273.7 204.3 L275.4 203.1 L277.1 201.9 L278.8 200.7 L280.5 199.5 L282.2 198.4 L283.9 197.2 L285.6 196.0 L287.3 194.9 L289.0 193.7 L290.7 192.6 L292.4 191.4 L294.1 190.3 L295.8 189.2 L297.5 188.1 L299.3 187.0 L301.0 185.9 L302.7 184.8 L304.4 183.7 L306.1 182.6 L307.8 181.6 L309.5 180.6 L311.2 179.5 L312.9 178.5 L314.6 177.5 L316.3 176.6 L318.0 175.6 L319.7 174.6 L321.4 173.6 L323.1 172.7 L324.8 171.7 L326.5 170.8 L328.2 169.9 L329.9 168.9 L331.6 168.0 L333.3 167.1 L335.0 166.1 L336.7 165.2 L338.4 164.3 L340.1 163.4 L341.8 162.4 L343.5 161.5 L345.2 160.6 L346.9 159.7 L348.6 158.8 L350.3 157.9 L352.0 157.1 L353.7 156.2 L355.4 155.3 L357.1 154.5 L358.8 153.6 L360.5 152.8 L362.2 152.0 L363.9 151.2 L365.6 150.3 L367.4 149.5 L369.1 148.7 L370.8 148.0 L372.5 147.2 L374.2 146.4 L375.9 145.6 L377.6 144.9 L379.3 144.1 L381.0 143.4 L382.7 142.7 L384.4 142.0 L386.1 141.3 L387.8 140.6 L389.5 139.9 L391.2 139.2 L392.9 138.5 L394.6 137.8 L396.3 137.2 L398.0 136.5 L399.7 135.9 L401.4 135.3 L403.1 134.7 L404.8 134.0 L406.5 133.4 L408.2 132.8 L409.9 132.2 L411.6 131.7 L413.3 131.1 L415.0 130.5 L416.7 129.9 L418.4 129.4 L420.1 128.9 L421.8 128.3 L423.5 127.8 L425.2 127.3 L426.9 126.8 L428.6 126.3 L430.3 125.8 L432.0 125.3 L433.7 124.9 L435.5 124.4 L437.2 124.0 L438.9 123.5 L440.6 123.1 L442.3 122.7 L444.0 122.3 L445.7 121.9 L447.4 121.5 L449.1 121.2 L450.8 120.8 L452.5 120.5 L454.2 120.2 L455.9 119.9 L457.6 119.6 L459.3 119.3 L461.0 119.0 L462.7 118.7 L464.4 118.5 L466.1 118.2 L467.8 118.0 L469.5 117.8 L471.2 117.5 L472.9 117.3 L474.6 117.1 L476.3 117.0 L478.0 116.8 L479.7 116.6 L481.4 116.5 L483.1 116.3 L484.8 116.2 L486.5 116.1 L488.2 116.0 L489.9 115.9 L491.6 115.8 L493.3 115.7 L495.0 115.7 L496.7 115.6 L498.4 115.6 L500.1 115.6 L501.8 115.5 L503.6 115.5 L505.3 115.6 L507.0 115.6 L508.7 115.6 L510.4 115.7 L512.1 115.7 L513.8 115.8 L515.5 115.9 L517.2 116.0 L518.9 116.1 L520.6 116.2 L522.3 116.3 L524.0 116.5 L525.7 116.6 L527.4 116.8 L529.1 117.0 L530.8 117.1 L532.5 117.3 L534.2 117.5 L535.9 117.8 L537.6 118.0 L539.3 118.2 L541.0 118.5 L542.7 118.7 L544.4 119.0 L546.1 119.3 L547.8 119.6 L549.5 119.9 L551.2 120.2 L552.9 120.5 L554.6 120.8 L556.3 121.2 L558.0 121.5 L559.7 121.9 L561.4 122.3 L563.1 122.7 L564.8 123.1 L566.5 123.5 L568.2 124.0 L569.9 124.4 L571.7 124.9 L573.4 125.3 L575.1 125.8 L576.8 126.3 L578.5 126.8 L580.2 127.3 L581.9 127.8 L583.6 128.3 L585.3 128.9 L587.0 129.4 L588.7 129.9 L590.4 130.5 L592.1 131.1 L593.8 131.7 L595.5 132.2 L597.2 132.8 L598.9 133.4 L600.6 134.0 L602.3 134.7 L604.0 135.3 L605.7 135.9 L607.4 136.5 L609.1 137.2 L610.8 137.8 L612.5 138.5 L614.2 139.2 L615.9 139.9 L617.6 140.6 L619.3 141.3 L621.0 142.0 L622.7 142.7 L624.4 143.4 L626.1 144.1 L627.8 144.9 L629.5 145.6 L631.2 146.4 L632.9 147.2 L634.6 148.0 L636.3 148.7 L638.0 149.5 L639.8 150.3 L641.5 151.2 L643.2 152.0 L644.9 152.8 L646.6 153.6 L648.3 154.5 L650.0 155.3 L651.7 156.2 L653.4 157.1 L655.1 157.9 L656.8 158.8 L658.5 159.7 L660.2 160.6 L661.9 161.5 L663.6 162.4 L665.3 163.4 L667.0 164.3 L668.7 165.2 L670.4 166.1 L672.1 167.1 L673.8 168.0 L675.5 168.9 L677.2 169.9 L678.9 170.8 L680.6 171.7 L682.3 172.7 L684.0 173.6 L685.7 174.6 L687.4 175.6 L689.1 176.6 L690.8 177.5 L692.5 178.5 L694.2 179.5 L695.9 180.6 L697.6 181.6 L699.3 182.6 L701.0 183.7 L702.7 184.8 L704.4 185.9 L706.1 187.0 L707.9 188.1 L709.6 189.2 L711.3 190.3 L713.0 191.4 L714.7 192.6 L716.4 193.7 L718.1 194.9 L719.8 196.0 L721.5 197.2 L723.2 198.4 L724.9 199.5 L726.6 200.7 L728.3 201.9 L730.0 203.1 L731.7 204.3 L733.4 205.5 L735.1 206.8 L736.8 208.0 L738.5 209.2 L740.2 210.5 L741.9 211.7 L743.6 213.0 L745.3 214.3 L747.0 215.5 L748.7 216.8 L750.4 218.1 L752.1 219.4 L753.8 220.7 L755.5 222.1 L757.2 223.4 L758.9 224.7 L760.6 226.1 L762.3 227.5 L764.0 228.8 L765.7 230.2 L767.4 231.6 L769.1 233.0 L770.8 234.5 L772.5 235.9 L774.2 237.4 L776.0 238.9 L777.7 240.4 L779.4 241.9 L781.1 243.4 L782.8 244.9 L784.5 246.5 L786.2 248.1 L787.9 249.7 L789.6 251.4 L791.3 253.0 L793.0 254.7 L794.7 256.5 L796.4 258.2 L798.1 260.0 L799.8 261.8 L801.5 263.7 L803.2 265.6 L804.9 267.5 L806.6 269.5 L808.3 271.6 L810.0 273.7 L811.7 275.9 L813.4 278.1 L815.1 280.4 L816.8 282.8 L818.5 285.3 L820.2 287.8 L821.9 290.5 L823.6 293.3 L825.3 296.2 L827.0 299.3 L828.7 302.5 L830.4 305.9 L832.1 309.5 L833.8 313.4 L835.5 317.5 L837.2 322.0 L838.9 326.9 L840.6 332.2 L842.3 338.2 L844.1 344.9 L845.6 351.6 L846.9 358.3 L848.0 365.0 L849.1 371.6 L850.0 378.3 L850.8 384.9 L851.5 391.6 L852.1 398.2 L852.6 404.9 L853.1 411.5 L853.5 418.2 L853.8 424.8 L854.2 431.5 L854.5 438.1 L854.7 444.8 L854.9 451.4 L855.1 458.0 L855.3 464.7 L855.4 471.3 L855.6 478.0 L855.7 484.6 L855.8 491.3 L855.9 497.9 L855.9 504.5" fill="none" stroke="#000" stroke-width="2.2"/>
<use href="#mE" x="162.5" y="447.9"/>
<use href="#mE" x="169.5" y="414.6"/>
<use href="#mE" x="176.6" y="388.4"/>
<use href="#mE" x="183.7" y="369.1"/>
<use href="#mE" x="190.8" y="352.9"/>
<use href="#mE" x="197.8" y="339.3"/>
<use href="#mE" x="204.9" y="327.0"/>
<use href="#mE" x="212.0" y="315.3"/>
<use href="#mE" x="219.1" y="304.5"/>
<use href="#mE" x="226.1" y="294.4"/>
<use href="#mE" x="233.2" y="284.6"/>
<use href="#mE" x="240.3" y="275.1"/>
<use href="#mE" x="247.4" y="266.2"/>
<use href="#mE" x="254.4" y="257.4"/>
<use href="#mE" x="261.5" y="248.7"/>
<use href="#mE" x="268.6" y="240.1"/>
<use href="#mE" x="275.7" y="231.5"/>
<use href="#mE" x="282.7" y="222.8"/>
<use href="#mE" x="289.8" y="214.2"/>
<use href="#mE" x="296.9" y="205.8"/>
<use href="#mE" x="304.0" y="197.4"/>
<use href="#mE" x="311.0" y="189.2"/>
<use href="#mE" x="318.1" y="181.0"/>
<use href="#mE" x="325.2" y="173.0"/>
<use href="#mE" x="332.3" y="165.1"/>
<use href="#mE" x="339.4" y="157.6"/>
<use href="#mE" x="346.4" y="150.4"/>
<use href="#mE" x="353.5" y="143.3"/>
<use href="#mE" x="360.6" y="136.0"/>
<use href="#mE" x="367.7" y="128.8"/>
<use href="#mE" x="374.7" y="121.8"/>
<use href="#mE" x="381.8" y="115.0"/>
<use href="#mE" x="388.9" y="108.4"/>
<use href="#mE" x="396.0" y="102.2"/>
<use href="#mE" x="403.0" y="96.3"/>
<use href="#mE" x="410.1" y="90.7"/>
<use href="#mE" x="417.2" y="85.3"/>
<use href="#mE" x="424.3" y="80.3"/>
<use href="#mE" x="431.3" y="75.7"/>
<use href="#mE" x="438.4" y="71.5"/>
<use href="#mE" x="445.5" y="67.7"/>
<use href="#mE" x="452.6" y="64.4"/>
<use href="#mE" x="459.6" y="61.6"/>
<use href="#mE" x="466.7" y="59.2"/>
<use href="#mE" x="473.8" y="57.0"/>
<use href="#mE" x="480.9" y="55.2"/>
<use href="#mE" x="487.9" y="53.9"/>
<use href="#mE" x="495.0" y="53.1"/>
<use href="#mE" x="502.1" y="52.8"/>
<use href="#mE" x="509.2" y="53.1"/>
<use href="#mE" x="516.3" y="53.9"/>
<use href="#mE" x="523.3" y="55.2"/>
<use href="#mE" x="530.4" y="57.0"/>
<use href="#mE" x="537.5" y="59.2"/>
<use href="#mE" x="544.6" y="61.6"/>
<use href="#mE" x="551.6" y="64.4"/>
<use href="#mE" x="558.7" y="67.7"/>
<use href="#mE" x="565.8" y="71.5"/>
<use href="#mE" x="572.9" y="75.7"/>
<use href="#mE" x="579.9" y="80.3"/>
<use href="#mE" x="587.0" y="85.3"/>
<use href="#mE" x="594.1" y="90.7"/>
<use href="#mE" x="601.2" y="96.3"/>
<use href="#mE" x="608.2" y="102.2"/>
<use href="#mE" x="615.3" y="108.4"/>
<use href="#mE" x="622.4" y="115.0"/>
<use href="#mE" x="629.5" y="121.8"/>
<use href="#mE" x="636.5" y="128.8"/>
<use href="#mE" x="643.6" y="136.0"/>
<use href="#mE" x="650.7" y="143.3"/>
<use href="#mE" x="657.8" y="150.4"/>
<use href="#mE" x="664.8" y="157.6"/>
<use href="#mE" x="671.9" y="165.1"/>
<use href="#mE" x="679.0" y="173.0"/>
<use href="#mE" x="686.1" y="181.0"/>
<use href="#mE" x="693.2" y="189.2"/>
<use href="#mE" x="700.2" y="197.4"/>
<use href="#mE" x="707.3" y="205.8"/>
<use href="#mE" x="714.4" y="214.2"/>
<use href="#mE" x="721.5" y="222.8"/>
<use href="#mE" x="728.5" y="231.5"/>
<use href="#mE" x="735.6" y="240.1"/>
<use href="#mE" x="742.7" y="248.7"/>
<use href="#mE" x="749.8" y="257.4"/>
<use href="#mE" x="756.8" y="266.2"/>
<use href="#mE" x="763.9" y="275.1"/>
<use href="#mE" x="771.0" y="284.6"/>
<use href="#mE" x="778.1" y="294.4"/>
<use href="#mE" x="785.1" y="304.5"/>
<use href="#mE" x="792.2" y="315.3"/>
<use href="#mE" x="799.3" y="327.0"/>
<use href="#mE" x="806.4" y="339.3"/>
<use href="#mE" x="813.4" y="352.9"/>
<use href="#mE" x="820.5" y="369.1"/>
<use href="#mE" x="827.6" y="388.4"/>
<use href="#mE" x="834.7" y="414.6"/>
<use href="#mE" x="841.7" y="447.9"/>
<use href="#mF" x="158.9" y="465.7"/>
<use href="#mF" x="162.5" y="443.5"/>
<use href="#mF" x="166.0" y="426.7"/>
<use href="#mF" x="169.5" y="412.1"/>
<use href="#mF" x="173.1" y="398.9"/>
<use href="#mF" x="176.6" y="387.2"/>
<use href="#mF" x="180.1" y="376.0"/>
<use href="#mF" x="183.7" y="365.8"/>
<use href="#mF" x="187.2" y="357.1"/>
<use href="#mF" x="190.8" y="349.1"/>
<use href="#mF" x="194.3" y="342.0"/>
<use href="#mF" x="197.8" y="335.3"/>
<use href="#mF" x="201.4" y="329.0"/>
<use href="#mF" x="204.9" y="323.1"/>
<use href="#mF" x="208.4" y="317.4"/>
<use href="#mF" x="212.0" y="312.0"/>
<use href="#mF" x="215.5" y="306.6"/>
<use href="#mF" x="219.1" y="301.5"/>
<use href="#mF" x="222.6" y="296.7"/>
<use href="#mF" x="226.1" y="292.1"/>
<use href="#mF" x="229.7" y="287.4"/>
<use href="#mF" x="233.2" y="282.9"/>
<use href="#mF" x="236.8" y="278.4"/>
<use href="#mF" x="240.3" y="274.0"/>
<use href="#mF" x="243.8" y="269.6"/>
<use href="#mF" x="247.4" y="265.3"/>
<use href="#mF" x="250.9" y="260.9"/>
<use href="#mF" x="254.4" y="256.6"/>
<use href="#mF" x="258.0" y="252.3"/>
<use href="#mF" x="261.5" y="248.1"/>
<use href="#mF" x="265.1" y="243.8"/>
<use href="#mF" x="268.6" y="239.5"/>
<use href="#mF" x="272.1" y="235.3"/>
<use href="#mF" x="275.7" y="231.0"/>
<use href="#mF" x="279.2" y="226.8"/>
<use href="#mF" x="282.7" y="222.5"/>
<use href="#mF" x="286.3" y="218.3"/>
<use href="#mF" x="289.8" y="214.0"/>
<use href="#mF" x="293.4" y="209.8"/>
<use href="#mF" x="296.9" y="205.7"/>
<use href="#mF" x="300.4" y="201.5"/>
<use href="#mF" x="304.0" y="197.4"/>
<use href="#mF" x="307.5" y="193.3"/>
<use href="#mF" x="311.0" y="189.3"/>
<use href="#mF" x="314.6" y="185.3"/>
<use href="#mF" x="318.1" y="181.3"/>
<use href="#mF" x="321.7" y="177.3"/>
<use href="#mF" x="325.2" y="173.3"/>
<use href="#mF" x="328.7" y="169.4"/>
<use href="#mF" x="332.3" y="165.5"/>
<use href="#mF" x="335.8" y="161.7"/>
<use href="#mF" x="339.4" y="158.1"/>
<use href="#mF" x="342.9" y="154.5"/>
<use href="#mF" x="346.4" y="151.0"/>
<use href="#mF" x="350.0" y="147.5"/>
<use href="#mF" x="353.5" y="143.9"/>
<use href="#mF" x="357.0" y="140.3"/>
<use href="#mF" x="360.6" y="136.7"/>
<use href="#mF" x="364.1" y="133.1"/>
<use href="#mF" x="367.7" y="129.6"/>
<use href="#mF" x="371.2" y="126.1"/>
<use href="#mF" x="374.7" y="122.6"/>
<use href="#mF" x="378.3" y="119.2"/>
<use href="#mF" x="381.8" y="115.8"/>
<use href="#mF" x="385.3" y="112.5"/>
<use href="#mF" x="388.9" y="109.3"/>
<use href="#mF" x="392.4" y="106.2"/>
<use href="#mF" x="396.0" y="103.1"/>
<use href="#mF" x="399.5" y="100.1"/>
<use href="#mF" x="403.0" y="97.2"/>
<use href="#mF" x="406.6" y="94.4"/>
<use href="#mF" x="410.1" y="91.7"/>
<use href="#mF" x="413.6" y="89.0"/>
<use href="#mF" x="417.2" y="86.4"/>
<use href="#mF" x="420.7" y="83.9"/>
<use href="#mF" x="424.3" y="81.5"/>
<use href="#mF" x="427.8" y="79.1"/>
<use href="#mF" x="431.3" y="76.9"/>
<use href="#mF" x="434.9" y="74.8"/>
<use href="#mF" x="438.4" y="72.7"/>
<use href="#mF" x="442.0" y="70.8"/>
<use href="#mF" x="445.5" y="68.9"/>
<use href="#mF" x="449.0" y="67.3"/>
<use href="#mF" x="452.6" y="65.7"/>
<use href="#mF" x="456.1" y="64.3"/>
<use href="#mF" x="459.6" y="62.9"/>
<use href="#mF" x="463.2" y="61.7"/>
<use href="#mF" x="466.7" y="60.5"/>
<use href="#mF" x="470.3" y="59.4"/>
<use href="#mF" x="473.8" y="58.4"/>
<use href="#mF" x="477.3" y="57.4"/>
<use href="#mF" x="480.9" y="56.6"/>
<use href="#mF" x="484.4" y="55.9"/>
<use href="#mF" x="487.9" y="55.3"/>
<use href="#mF" x="491.5" y="54.9"/>
<use href="#mF" x="495.0" y="54.6"/>
<use href="#mF" x="498.6" y="54.4"/>
<use href="#mF" x="502.1" y="54.3"/>
<use href="#mF" x="505.6" y="54.4"/>
<use href="#mF" x="509.2" y="54.6"/>
<use href="#mF" x="512.7" y="54.9"/>
<use href="#mF" x="516.3" y="55.3"/>
<use href="#mF" x="519.8" y="55.9"/>
<use href="#mF" x="523.3" y="56.6"/>
<use href="#mF" x="526.9" y="57.4"/>
<use href="#mF" x="530.4" y="58.4"/>
<use href="#mF" x="533.9" y="59.4"/>
<use href="#mF" x="537.5" y="60.5"/>
<use href="#mF" x="541.0" y="61.7"/>
<use href="#mF" x="544.6" y="62.9"/>
<use href="#mF" x="548.1" y="64.3"/>
<use href="#mF" x="551.6" y="65.7"/>
<use href="#mF" x="555.2" y="67.3"/>
<use href="#mF" x="558.7" y="68.9"/>
<use href="#mF" x="562.2" y="70.8"/>
<use href="#mF" x="565.8" y="72.7"/>
<use href="#mF" x="569.3" y="74.8"/>
<use href="#mF" x="572.9" y="76.9"/>
<use href="#mF" x="576.4" y="79.1"/>
<use href="#mF" x="579.9" y="81.5"/>
<use href="#mF" x="583.5" y="83.9"/>
<use href="#mF" x="587.0" y="86.4"/>
<use href="#mF" x="590.5" y="89.0"/>
<use href="#mF" x="594.1" y="91.7"/>
<use href="#mF" x="597.6" y="94.4"/>
<use href="#mF" x="601.2" y="97.2"/>
<use href="#mF" x="604.7" y="100.1"/>
<use href="#mF" x="608.2" y="103.1"/>
<use href="#mF" x="611.8" y="106.2"/>
<use href="#mF" x="615.3" y="109.3"/>
<use href="#mF" x="618.9" y="112.5"/>
<use href="#mF" x="622.4" y="115.8"/>
<use href="#mF" x="625.9" y="119.2"/>
<use href="#mF" x="629.5" y="122.6"/>
<use href="#mF" x="633.0" y="126.1"/>
<use href="#mF" x="636.5" y="129.6"/>
<use href="#mF" x="640.1" y="133.1"/>
<use href="#mF" x="643.6" y="136.7"/>
<use href="#mF" x="647.2" y="140.3"/>
<use href="#mF" x="650.7" y="143.9"/>
<use href="#mF" x="654.2" y="147.5"/>
<use href="#mF" x="657.8" y="151.0"/>
<use href="#mF" x="661.3" y="154.5"/>
<use href="#mF" x="664.8" y="158.1"/>
<use href="#mF" x="668.4" y="161.7"/>
<use href="#mF" x="671.9" y="165.5"/>
<use href="#mF" x="675.5" y="169.4"/>
<use href="#mF" x="679.0" y="173.3"/>
<use href="#mF" x="682.5" y="177.3"/>
<use href="#mF" x="686.1" y="181.3"/>
<use href="#mF" x="689.6" y="185.3"/>
<use href="#mF" x="693.2" y="189.3"/>
<use href="#mF" x="696.7" y="193.3"/>
<use href="#mF" x="700.2" y="197.4"/>
<use href="#mF" x="703.8" y="201.5"/>
<use href="#mF" x="707.3" y="205.7"/>
<use href="#mF" x="710.8" y="209.8"/>
<use href="#mF" x="714.4" y="214.0"/>
<use href="#mF" x="717.9" y="218.3"/>
<use href="#mF" x="721.5" y="222.5"/>
<use href="#mF" x="725.0" y="226.8"/>
<use href="#mF" x="728.5" y="231.0"/>
<use href="#mF" x="732.1" y="235.3"/>
<use href="#mF" x="735.6" y="239.5"/>
<use href="#mF" x="739.1" y="243.8"/>
<use href="#mF" x="742.7" y="248.1"/>
<use href="#mF" x="746.2" y="252.3"/>
<use href="#mF" x="749.8" y="256.6"/>
<use href="#mF" x="753.3" y="260.9"/>
<use href="#mF" x="756.8" y="265.3"/>
<use href="#mF" x="760.4" y="269.6"/>
<use href="#mF" x="763.9" y="274.0"/>
<use href="#mF" x="767.4" y="278.4"/>
<use href="#mF" x="771.0" y="282.9"/>
<use href="#mF" x="774.5" y="287.4"/>
<use href="#mF" x="778.1" y="292.1"/>
<use href="#mF" x="781.6" y="296.7"/>
<use href="#mF" x="785.1" y="301.5"/>
<use href="#mF" x="788.7" y="306.6"/>
<use href="#mF" x="792.2" y="312.0"/>
<use href="#mF" x="795.8" y="317.4"/>
<use href="#mF" x="799.3" y="323.1"/>
<use href="#mF" x="802.8" y="329.0"/>
<use href="#mF" x="806.4" y="335.3"/>
<use href="#mF" x="809.9" y="342.0"/>
<use href="#mF" x="813.4" y="349.1"/>
<use href="#mF" x="817.0" y="357.1"/>
<use href="#mF" x="820.5" y="365.8"/>
<use href="#mF" x="824.1" y="376.0"/>
<use href="#mF" x="827.6" y="387.2"/>
<use href="#mF" x="831.1" y="398.9"/>
<use href="#mF" x="834.7" y="412.1"/>
<use href="#mF" x="838.2" y="426.7"/>
<use href="#mF" x="841.7" y="443.5"/>
<use href="#mF" x="845.3" y="465.7"/>
<path d="M154.6 506.4 L155.4 495.5 L156.3 484.7 L157.4 474.1 L158.5 463.2 L159.8 452.6 L161.3 442.2 L163.1 432.3 L164.8 423.5 L166.5 415.7 L168.2 408.6 L169.9 402.2 L171.6 396.7 L173.3 391.5 L175.0 386.5 L176.7 381.7 L178.4 377.1 L180.1 372.8 L181.8 368.6 L183.5 364.7 L185.2 360.9 L186.9 357.3 L188.6 353.6 L190.3 350.1 L192.0 346.7 L193.7 343.4 L195.4 340.2 L197.1 337.2 L198.8 334.1 L200.5 331.2 L202.2 328.3 L203.9 325.5 L205.6 322.7 L207.3 320.0 L209.0 317.2 L210.7 314.6 L212.4 311.9 L214.1 309.3 L215.8 306.8 L217.5 304.3 L219.2 301.8 L220.9 299.4 L222.6 297.0 L224.3 294.7 L226.0 292.4 L227.7 290.1 L229.4 287.8 L231.2 285.5 L232.9 283.3 L234.6 281.1 L236.3 278.9 L238.0 276.8 L239.7 274.6 L241.4 272.5 L243.1 270.4 L244.8 268.3 L246.5 266.2 L248.2 264.1 L249.9 262.0 L251.6 260.0 L253.3 257.9 L255.0 255.8 L256.7 253.8 L258.4 251.7 L260.1 249.7 L261.8 247.6 L263.5 245.5 L265.2 243.5 L266.9 241.5 L268.6 239.4 L270.3 237.4 L272.0 235.3 L273.7 233.3 L275.4 231.2 L277.1 229.2 L278.8 227.1 L280.5 225.1 L282.2 223.1 L283.9 221.0 L285.6 219.0 L287.3 216.9 L289.0 214.9 L290.7 212.9 L292.4 210.8 L294.1 208.8 L295.8 206.8 L297.5 204.8 L299.3 202.8 L301.0 200.8 L302.7 198.8 L304.4 196.8 L306.1 194.8 L307.8 192.8 L309.5 190.9 L311.2 188.9 L312.9 187.0 L314.6 185.0 L316.3 183.1 L318.0 181.2 L319.7 179.2 L321.4 177.3 L323.1 175.4 L324.8 173.5 L326.5 171.6 L328.2 169.7 L329.9 167.8 L331.6 165.9 L333.3 164.1 L335.0 162.2 L336.7 160.4 L338.4 158.6 L340.1 156.9 L341.8 155.2 L343.5 153.4 L345.2 151.7 L346.9 150.0 L348.6 148.3 L350.3 146.6 L352.0 144.9 L353.7 143.2 L355.4 141.5 L357.1 139.7 L358.8 138.0 L360.5 136.2 L362.2 134.5 L363.9 132.8 L365.6 131.1 L367.4 129.4 L369.1 127.7 L370.8 126.0 L372.5 124.3 L374.2 122.6 L375.9 121.0 L377.6 119.3 L379.3 117.6 L381.0 116.0 L382.7 114.4 L384.4 112.8 L386.1 111.2 L387.8 109.7 L389.5 108.1 L391.2 106.6 L392.9 105.1 L394.6 103.6 L396.3 102.1 L398.0 100.7 L399.7 99.2 L401.4 97.8 L403.1 96.4 L404.8 95.1 L406.5 93.7 L408.2 92.4 L409.9 91.0 L411.6 89.7 L413.3 88.4 L415.0 87.1 L416.7 85.9 L418.4 84.6 L420.1 83.4 L421.8 82.2 L423.5 81.0 L425.2 79.9 L426.9 78.8 L428.6 77.7 L430.3 76.6 L432.0 75.5 L433.7 74.5 L435.5 73.4 L437.2 72.4 L438.9 71.4 L440.6 70.5 L442.3 69.6 L444.0 68.7 L445.7 67.8 L447.4 66.9 L449.1 66.1 L450.8 65.4 L452.5 64.6 L454.2 63.9 L455.9 63.2 L457.6 62.5 L459.3 61.9 L461.0 61.2 L462.7 60.6 L464.4 60.1 L466.1 59.5 L467.8 58.9 L469.5 58.4 L471.2 57.9 L472.9 57.4 L474.6 56.9 L476.3 56.4 L478.0 55.9 L479.7 55.5 L481.4 55.1 L483.1 54.8 L484.8 54.4 L486.5 54.1 L488.2 53.9 L489.9 53.7 L491.6 53.5 L493.3 53.3 L495.0 53.1 L496.7 53.0 L498.4 52.9 L500.1 52.9 L501.8 52.8 L503.6 52.8 L505.3 52.9 L507.0 52.9 L508.7 53.0 L510.4 53.1 L512.1 53.3 L513.8 53.5 L515.5 53.7 L517.2 53.9 L518.9 54.1 L520.6 54.4 L522.3 54.8 L524.0 55.1 L525.7 55.5 L527.4 55.9 L529.1 56.4 L530.8 56.9 L532.5 57.4 L534.2 57.9 L535.9 58.4 L537.6 58.9 L539.3 59.5 L541.0 60.1 L542.7 60.6 L544.4 61.2 L546.1 61.9 L547.8 62.5 L549.5 63.2 L551.2 63.9 L552.9 64.6 L554.6 65.4 L556.3 66.1 L558.0 66.9 L559.7 67.8 L561.4 68.7 L563.1 69.6 L564.8 70.5 L566.5 71.4 L568.2 72.4 L569.9 73.4 L571.7 74.5 L573.4 75.5 L575.1 76.6 L576.8 77.7 L578.5 78.8 L580.2 79.9 L581.9 81.0 L583.6 82.2 L585.3 83.4 L587.0 84.6 L588.7 85.9 L590.4 87.1 L592.1 88.4 L593.8 89.7 L595.5 91.0 L597.2 92.4 L598.9 93.7 L600.6 95.1 L602.3 96.4 L604.0 97.8 L605.7 99.2 L607.4 100.7 L609.1 102.1 L610.8 103.6 L612.5 105.1 L614.2 106.6 L615.9 108.1 L617.6 109.7 L619.3 111.2 L621.0 112.8 L622.7 114.4 L624.4 116.0 L626.1 117.6 L627.8 119.3 L629.5 121.0 L631.2 122.6 L632.9 124.3 L634.6 126.0 L636.3 127.7 L638.0 129.4 L639.8 131.1 L641.5 132.8 L643.2 134.5 L644.9 136.2 L646.6 138.0 L648.3 139.7 L650.0 141.5 L651.7 143.2 L653.4 144.9 L655.1 146.6 L656.8 148.3 L658.5 150.0 L660.2 151.7 L661.9 153.4 L663.6 155.2 L665.3 156.9 L667.0 158.6 L668.7 160.4 L670.4 162.2 L672.1 164.1 L673.8 165.9 L675.5 167.8 L677.2 169.7 L678.9 171.6 L680.6 173.5 L682.3 175.4 L684.0 177.3 L685.7 179.2 L687.4 181.2 L689.1 183.1 L690.8 185.0 L692.5 187.0 L694.2 188.9 L695.9 190.9 L697.6 192.8 L699.3 194.8 L701.0 196.8 L702.7 198.8 L704.4 200.8 L706.1 202.8 L707.9 204.8 L709.6 206.8 L711.3 208.8 L713.0 210.8 L714.7 212.9 L716.4 214.9 L718.1 216.9 L719.8 219.0 L721.5 221.0 L723.2 223.1 L724.9 225.1 L726.6 227.1 L728.3 229.2 L730.0 231.2 L731.7 233.3 L733.4 235.3 L735.1 237.4 L736.8 239.4 L738.5 241.5 L740.2 243.5 L741.9 245.5 L743.6 247.6 L745.3 249.7 L747.0 251.7 L748.7 253.8 L750.4 255.8 L752.1 257.9 L753.8 260.0 L755.5 262.0 L757.2 264.1 L758.9 266.2 L760.6 268.3 L762.3 270.4 L764.0 272.5 L765.7 274.6 L767.4 276.8 L769.1 278.9 L770.8 281.1 L772.5 283.3 L774.2 285.5 L776.0 287.8 L777.7 290.1 L779.4 292.4 L781.1 294.7 L782.8 297.0 L784.5 299.4 L786.2 301.8 L787.9 304.3 L789.6 306.8 L791.3 309.3 L793.0 311.9 L794.7 314.6 L796.4 317.2 L798.1 320.0 L799.8 322.7 L801.5 325.5 L803.2 328.3 L804.9 331.2 L806.6 334.1 L808.3 337.2 L810.0 340.2 L811.7 343.4 L813.4 346.7 L815.1 350.1 L816.8 353.6 L818.5 357.3 L820.2 360.9 L821.9 364.7 L823.6 368.6 L825.3 372.8 L827.0 377.1 L828.7 381.7 L830.4 386.5 L832.1 391.5 L833.8 396.7 L835.5 402.2 L837.2 408.6 L838.9 415.7 L840.6 423.5 L842.3 432.3 L844.1 442.2 L845.6 452.6 L846.9 463.2 L848.0 474.1 L849.1 484.7 L850.0 495.5 L850.8 506.4" fill="none" stroke="#0000ff" stroke-width="2.2"/>
<use href="#mG" x="162.5" y="422.0"/>
<use href="#mG" x="169.5" y="388.9"/>
<use href="#mG" x="176.6" y="366.2"/>
<use href="#mG" x="183.7" y="348.2"/>
<use href="#mG" x="190.8" y="333.5"/>
<use href="#mG" x="197.8" y="320.7"/>
<use href="#mG" x="204.9" y="309.1"/>
<use href="#mG" x="212.0" y="298.5"/>
<use href="#mG" x="219.1" y="288.5"/>
<use href="#mG" x="226.1" y="279.2"/>
<use href="#mG" x="233.2" y="270.2"/>
<use href="#mG" x="240.3" y="261.5"/>
<use href="#mG" x="247.4" y="253.0"/>
<use href="#mG" x="254.4" y="244.6"/>
<use href="#mG" x="261.5" y="236.2"/>
<use href="#mG" x="268.6" y="227.9"/>
<use href="#mG" x="275.7" y="219.6"/>
<use href="#mG" x="282.7" y="211.4"/>
<use href="#mG" x="289.8" y="203.1"/>
<use href="#mG" x="296.9" y="194.8"/>
<use href="#mG" x="304.0" y="186.5"/>
<use href="#mG" x="311.0" y="178.2"/>
<use href="#mG" x="318.1" y="170.1"/>
<use href="#mG" x="325.2" y="162.0"/>
<use href="#mG" x="332.3" y="154.5"/>
<use href="#mG" x="339.4" y="147.3"/>
<use href="#mG" x="346.4" y="140.0"/>
<use href="#mG" x="353.5" y="132.4"/>
<use href="#mG" x="360.6" y="125.0"/>
<use href="#mG" x="367.7" y="117.7"/>
<use href="#mG" x="374.7" y="110.6"/>
<use href="#mG" x="381.8" y="103.8"/>
<use href="#mG" x="388.9" y="97.1"/>
<use href="#mG" x="396.0" y="90.6"/>
<use href="#mG" x="403.0" y="84.4"/>
<use href="#mG" x="410.1" y="78.5"/>
<use href="#mG" x="417.2" y="72.8"/>
<use href="#mG" x="424.3" y="67.5"/>
<use href="#mG" x="431.3" y="62.5"/>
<use href="#mG" x="438.4" y="57.8"/>
<use href="#mG" x="445.5" y="53.6"/>
<use href="#mG" x="452.6" y="49.9"/>
<use href="#mG" x="459.6" y="46.6"/>
<use href="#mG" x="466.7" y="43.7"/>
<use href="#mG" x="473.8" y="41.3"/>
<use href="#mG" x="480.9" y="39.4"/>
<use href="#mG" x="487.9" y="38.1"/>
<use href="#mG" x="495.0" y="37.2"/>
<use href="#mG" x="502.1" y="37.0"/>
<use href="#mG" x="509.2" y="37.2"/>
<use href="#mG" x="516.3" y="38.1"/>
<use href="#mG" x="523.3" y="39.4"/>
<use href="#mG" x="530.4" y="41.3"/>
<use href="#mG" x="537.5" y="43.7"/>
<use href="#mG" x="544.6" y="46.6"/>
<use href="#mG" x="551.6" y="49.9"/>
<use href="#mG" x="558.7" y="53.6"/>
<use href="#mG" x="565.8" y="57.8"/>
<use href="#mG" x="572.9" y="62.5"/>
<use href="#mG" x="579.9" y="67.5"/>
<use href="#mG" x="587.0" y="72.8"/>
<use href="#mG" x="594.1" y="78.5"/>
<use href="#mG" x="601.2" y="84.4"/>
<use href="#mG" x="608.2" y="90.6"/>
<use href="#mG" x="615.3" y="97.1"/>
<use href="#mG" x="622.4" y="103.8"/>
<use href="#mG" x="629.5" y="110.6"/>
<use href="#mG" x="636.5" y="117.7"/>
<use href="#mG" x="643.6" y="125.0"/>
<use href="#mG" x="650.7" y="132.4"/>
<use href="#mG" x="657.8" y="140.0"/>
<use href="#mG" x="664.8" y="147.3"/>
<use href="#mG" x="671.9" y="154.5"/>
<use href="#mG" x="679.0" y="162.0"/>
<use href="#mG" x="686.1" y="170.1"/>
<use href="#mG" x="693.2" y="178.2"/>
<use href="#mG" x="700.2" y="186.5"/>
<use href="#mG" x="707.3" y="194.8"/>
<use href="#mG" x="714.4" y="203.1"/>
<use href="#mG" x="721.5" y="211.4"/>
<use href="#mG" x="728.5" y="219.6"/>
<use href="#mG" x="735.6" y="227.9"/>
<use href="#mG" x="742.7" y="236.2"/>
<use href="#mG" x="749.8" y="244.6"/>
<use href="#mG" x="756.8" y="253.0"/>
<use href="#mG" x="763.9" y="261.5"/>
<use href="#mG" x="771.0" y="270.2"/>
<use href="#mG" x="778.1" y="279.2"/>
<use href="#mG" x="785.1" y="288.5"/>
<use href="#mG" x="792.2" y="298.5"/>
<use href="#mG" x="799.3" y="309.1"/>
<use href="#mG" x="806.4" y="320.7"/>
<use href="#mG" x="813.4" y="333.5"/>
<use href="#mG" x="820.5" y="348.2"/>
<use href="#mG" x="827.6" y="366.2"/>
<use href="#mG" x="834.7" y="388.9"/>
<use href="#mG" x="841.7" y="422.0"/>
<use href="#mH" x="155.4" y="470.1"/>
<use href="#mH" x="158.9" y="436.2"/>
<use href="#mH" x="162.5" y="414.5"/>
<use href="#mH" x="166.0" y="398.2"/>
<use href="#mH" x="169.5" y="384.2"/>
<use href="#mH" x="173.1" y="372.6"/>
<use href="#mH" x="176.6" y="362.3"/>
<use href="#mH" x="180.1" y="353.0"/>
<use href="#mH" x="183.7" y="344.7"/>
<use href="#mH" x="187.2" y="337.3"/>
<use href="#mH" x="190.8" y="330.4"/>
<use href="#mH" x="194.3" y="324.0"/>
<use href="#mH" x="197.8" y="318.0"/>
<use href="#mH" x="201.4" y="312.2"/>
<use href="#mH" x="204.9" y="306.7"/>
<use href="#mH" x="208.4" y="301.4"/>
<use href="#mH" x="212.0" y="296.4"/>
<use href="#mH" x="215.5" y="291.4"/>
<use href="#mH" x="219.1" y="286.6"/>
<use href="#mH" x="222.6" y="281.9"/>
<use href="#mH" x="226.1" y="277.4"/>
<use href="#mH" x="229.7" y="273.0"/>
<use href="#mH" x="233.2" y="268.7"/>
<use href="#mH" x="236.8" y="264.4"/>
<use href="#mH" x="240.3" y="260.2"/>
<use href="#mH" x="243.8" y="256.0"/>
<use href="#mH" x="247.4" y="251.9"/>
<use href="#mH" x="250.9" y="247.8"/>
<use href="#mH" x="254.4" y="243.7"/>
<use href="#mH" x="258.0" y="239.5"/>
<use href="#mH" x="261.5" y="235.3"/>
<use href="#mH" x="265.1" y="231.2"/>
<use href="#mH" x="268.6" y="227.0"/>
<use href="#mH" x="272.1" y="222.9"/>
<use href="#mH" x="275.7" y="218.7"/>
<use href="#mH" x="279.2" y="214.6"/>
<use href="#mH" x="282.7" y="210.5"/>
<use href="#mH" x="286.3" y="206.4"/>
<use href="#mH" x="289.8" y="202.2"/>
<use href="#mH" x="293.4" y="198.1"/>
<use href="#mH" x="296.9" y="194.0"/>
<use href="#mH" x="300.4" y="189.9"/>
<use href="#mH" x="304.0" y="185.8"/>
<use href="#mH" x="307.5" y="181.7"/>
<use href="#mH" x="311.0" y="177.7"/>
<use href="#mH" x="314.6" y="173.6"/>
<use href="#mH" x="318.1" y="169.6"/>
<use href="#mH" x="321.7" y="165.6"/>
<use href="#mH" x="325.2" y="161.6"/>
<use href="#mH" x="328.7" y="157.9"/>
<use href="#mH" x="332.3" y="154.3"/>
<use href="#mH" x="335.8" y="150.7"/>
<use href="#mH" x="339.4" y="147.1"/>
<use href="#mH" x="342.9" y="143.5"/>
<use href="#mH" x="346.4" y="139.8"/>
<use href="#mH" x="350.0" y="136.0"/>
<use href="#mH" x="353.5" y="132.3"/>
<use href="#mH" x="357.0" y="128.5"/>
<use href="#mH" x="360.6" y="124.9"/>
<use href="#mH" x="364.1" y="121.2"/>
<use href="#mH" x="367.7" y="117.6"/>
<use href="#mH" x="371.2" y="114.1"/>
<use href="#mH" x="374.7" y="110.6"/>
<use href="#mH" x="378.3" y="107.1"/>
<use href="#mH" x="381.8" y="103.7"/>
<use href="#mH" x="385.3" y="100.4"/>
<use href="#mH" x="388.9" y="97.1"/>
<use href="#mH" x="392.4" y="93.9"/>
<use href="#mH" x="396.0" y="90.6"/>
<use href="#mH" x="399.5" y="87.5"/>
<use href="#mH" x="403.0" y="84.4"/>
<use href="#mH" x="406.6" y="81.4"/>
<use href="#mH" x="410.1" y="78.5"/>
<use href="#mH" x="413.6" y="75.6"/>
<use href="#mH" x="417.2" y="72.8"/>
<use href="#mH" x="420.7" y="70.2"/>
<use href="#mH" x="424.3" y="67.5"/>
<use href="#mH" x="427.8" y="65.0"/>
<use href="#mH" x="431.3" y="62.5"/>
<use href="#mH" x="434.9" y="60.1"/>
<use href="#mH" x="438.4" y="57.8"/>
<use href="#mH" x="442.0" y="55.7"/>
<use href="#mH" x="445.5" y="53.6"/>
<use href="#mH" x="449.0" y="51.7"/>
<use href="#mH" x="452.6" y="49.9"/>
<use href="#mH" x="456.1" y="48.2"/>
<use href="#mH" x="459.6" y="46.6"/>
<use href="#mH" x="463.2" y="45.1"/>
<use href="#mH" x="466.7" y="43.7"/>
<use href="#mH" x="470.3" y="42.5"/>
<use href="#mH" x="473.8" y="41.3"/>
<use href="#mH" x="477.3" y="40.3"/>
<use href="#mH" x="480.9" y="39.4"/>
<use href="#mH" x="484.4" y="38.7"/>
<use href="#mH" x="487.9" y="38.1"/>
<use href="#mH" x="491.5" y="37.6"/>
<use href="#mH" x="495.0" y="37.2"/>
<use href="#mH" x="498.6" y="37.0"/>
<use href="#mH" x="502.1" y="37.0"/>
<use href="#mH" x="505.6" y="37.0"/>
<use href="#mH" x="509.2" y="37.2"/>
<use href="#mH" x="512.7" y="37.6"/>
<use href="#mH" x="516.3" y="38.1"/>
<use href="#mH" x="519.8" y="38.7"/>
<use href="#mH" x="523.3" y="39.4"/>
<use href="#mH" x="526.9" y="40.3"/>
<use href="#mH" x="530.4" y="41.3"/>
<use href="#mH" x="533.9" y="42.5"/>
<use href="#mH" x="537.5" y="43.7"/>
<use href="#mH" x="541.0" y="45.1"/>
<use href="#mH" x="544.6" y="46.6"/>
<use href="#mH" x="548.1" y="48.2"/>
<use href="#mH" x="551.6" y="49.9"/>
<use href="#mH" x="555.2" y="51.7"/>
<use href="#mH" x="558.7" y="53.6"/>
<use href="#mH" x="562.2" y="55.7"/>
<use href="#mH" x="565.8" y="57.8"/>
<use href="#mH" x="569.3" y="60.1"/>
<use href="#mH" x="572.9" y="62.5"/>
<use href="#mH" x="576.4" y="65.0"/>
<use href="#mH" x="579.9" y="67.5"/>
<use href="#mH" x="583.5" y="70.2"/>
<use href="#mH" x="587.0" y="72.8"/>
<use href="#mH" x="590.5" y="75.6"/>
<use href="#mH" x="594.1" y="78.5"/>
<use href="#mH" x="597.6" y="81.4"/>
<use href="#mH" x="601.2" y="84.4"/>
<use href="#mH" x="604.7" y="87.5"/>
<use href="#mH" x="608.2" y="90.6"/>
<use href="#mH" x="611.8" y="93.9"/>
<use href="#mH" x="615.3" y="97.1"/>
<use href="#mH" x="618.9" y="100.4"/>
<use href="#mH" x="622.4" y="103.7"/>
<use href="#mH" x="625.9" y="107.1"/>
<use href="#mH" x="629.5" y="110.6"/>
<use href="#mH" x="633.0" y="114.1"/>
<use href="#mH" x="636.5" y="117.6"/>
<use href="#mH" x="640.1" y="121.2"/>
<use href="#mH" x="643.6" y="124.9"/>
<use href="#mH" x="647.2" y="128.5"/>
<use href="#mH" x="650.7" y="132.3"/>
<use href="#mH" x="654.2" y="136.0"/>
<use href="#mH" x="657.8" y="139.8"/>
<use href="#mH" x="661.3" y="143.5"/>
<use href="#mH" x="664.8" y="147.1"/>
<use href="#mH" x="668.4" y="150.7"/>
<use href="#mH" x="671.9" y="154.3"/>
<use href="#mH" x="675.5" y="157.9"/>
<use href="#mH" x="679.0" y="161.6"/>
<use href="#mH" x="682.5" y="165.6"/>
<use href="#mH" x="686.1" y="169.6"/>
<use href="#mH" x="689.6" y="173.6"/>
<use href="#mH" x="693.2" y="177.7"/>
<use href="#mH" x="696.7" y="181.7"/>
<use href="#mH" x="700.2" y="185.8"/>
<use href="#mH" x="703.8" y="189.9"/>
<use href="#mH" x="707.3" y="194.0"/>
<use href="#mH" x="710.8" y="198.1"/>
<use href="#mH" x="714.4" y="202.2"/>
<use href="#mH" x="717.9" y="206.4"/>
<use href="#mH" x="721.5" y="210.5"/>
<use href="#mH" x="725.0" y="214.6"/>
<use href="#mH" x="728.5" y="218.7"/>
<use href="#mH" x="732.1" y="222.9"/>
<use href="#mH" x="735.6" y="227.0"/>
<use href="#mH" x="739.1" y="231.2"/>
<use href="#mH" x="742.7" y="235.3"/>
<use href="#mH" x="746.2" y="239.5"/>
<use href="#mH" x="749.8" y="243.7"/>
<use href="#mH" x="753.3" y="247.8"/>
<use href="#mH" x="756.8" y="251.9"/>
<use href="#mH" x="760.4" y="256.0"/>
<use href="#mH" x="763.9" y="260.2"/>
<use href="#mH" x="767.4" y="264.4"/>
<use href="#mH" x="771.0" y="268.7"/>
<use href="#mH" x="774.5" y="273.0"/>
<use href="#mH" x="778.1" y="277.4"/>
<use href="#mH" x="781.6" y="281.9"/>
<use href="#mH" x="785.1" y="286.6"/>
<use href="#mH" x="788.7" y="291.4"/>
<use href="#mH" x="792.2" y="296.4"/>
<use href="#mH" x="795.8" y="301.4"/>
<use href="#mH" x="799.3" y="306.7"/>
<use href="#mH" x="802.8" y="312.2"/>
<use href="#mH" x="806.4" y="318.0"/>
<use href="#mH" x="809.9" y="324.0"/>
<use href="#mH" x="813.4" y="330.4"/>
<use href="#mH" x="817.0" y="337.3"/>
<use href="#mH" x="820.5" y="344.7"/>
<use href="#mH" x="824.1" y="353.0"/>
<use href="#mH" x="827.6" y="362.3"/>
<use href="#mH" x="831.1" y="372.6"/>
<use href="#mH" x="834.7" y="384.2"/>
<use href="#mH" x="838.2" y="398.2"/>
<use href="#mH" x="841.7" y="414.5"/>
<use href="#mH" x="845.3" y="436.2"/>
<use href="#mH" x="848.8" y="470.1"/>
<path d="M151.6 506.5 L151.9 498.2 L152.3 489.9 L152.8 481.6 L153.3 473.4 L153.9 465.3 L154.6 458.3 L155.4 451.1 L156.3 443.6 L157.4 435.2 L158.5 426.7 L159.8 418.2 L161.3 410.8 L163.1 403.5 L164.8 396.5 L166.5 390.0 L168.2 384.1 L169.9 378.5 L171.6 372.9 L173.3 367.5 L175.0 362.5 L176.7 357.9 L178.4 353.6 L180.1 349.6 L181.8 345.7 L183.5 342.0 L185.2 338.4 L186.9 334.9 L188.6 331.5 L190.3 328.3 L192.0 325.2 L193.7 322.2 L195.4 319.3 L197.1 316.5 L198.8 313.8 L200.5 311.1 L202.2 308.5 L203.9 306.0 L205.6 303.5 L207.3 301.1 L209.0 298.6 L210.7 296.2 L212.4 293.8 L214.1 291.4 L215.8 289.1 L217.5 286.8 L219.2 284.5 L220.9 282.3 L222.6 280.1 L224.3 278.0 L226.0 275.9 L227.7 273.8 L229.4 271.7 L231.2 269.6 L232.9 267.6 L234.6 265.6 L236.3 263.5 L238.0 261.5 L239.7 259.5 L241.4 257.6 L243.1 255.6 L244.8 253.7 L246.5 251.7 L248.2 249.8 L249.9 247.9 L251.6 246.0 L253.3 244.0 L255.0 242.1 L256.7 240.2 L258.4 238.3 L260.1 236.4 L261.8 234.5 L263.5 232.6 L265.2 230.7 L266.9 228.8 L268.6 226.9 L270.3 225.0 L272.0 223.1 L273.7 221.2 L275.4 219.3 L277.1 217.4 L278.8 215.5 L280.5 213.6 L282.2 211.7 L283.9 209.8 L285.6 208.0 L287.3 206.1 L289.0 204.2 L290.7 202.3 L292.4 200.4 L294.1 198.5 L295.8 196.6 L297.5 194.7 L299.3 192.8 L301.0 190.9 L302.7 189.0 L304.4 187.2 L306.1 185.3 L307.8 183.4 L309.5 181.5 L311.2 179.7 L312.9 177.8 L314.6 175.9 L316.3 174.1 L318.0 172.2 L319.7 170.3 L321.4 168.5 L323.1 166.6 L324.8 164.8 L326.5 163.0 L328.2 161.3 L329.9 159.6 L331.6 157.9 L333.3 156.3 L335.0 154.6 L336.7 153.0 L338.4 151.3 L340.1 149.6 L341.8 147.9 L343.5 146.2 L345.2 144.4 L346.9 142.6 L348.6 140.7 L350.3 138.9 L352.0 137.1 L353.7 135.3 L355.4 133.5 L357.1 131.7 L358.8 129.9 L360.5 128.1 L362.2 126.4 L363.9 124.6 L365.6 122.8 L367.4 121.1 L369.1 119.4 L370.8 117.7 L372.5 116.0 L374.2 114.3 L375.9 112.6 L377.6 111.0 L379.3 109.3 L381.0 107.7 L382.7 106.0 L384.4 104.4 L386.1 102.8 L387.8 101.2 L389.5 99.6 L391.2 98.1 L392.9 96.5 L394.6 94.9 L396.3 93.4 L398.0 91.9 L399.7 90.3 L401.4 88.8 L403.1 87.4 L404.8 85.9 L406.5 84.4 L408.2 83.0 L409.9 81.6 L411.6 80.2 L413.3 78.8 L415.0 77.4 L416.7 76.1 L418.4 74.8 L420.1 73.5 L421.8 72.2 L423.5 70.9 L425.2 69.7 L426.9 68.4 L428.6 67.2 L430.3 66.0 L432.0 64.8 L433.7 63.6 L435.5 62.5 L437.2 61.4 L438.9 60.3 L440.6 59.2 L442.3 58.2 L444.0 57.2 L445.7 56.2 L447.4 55.3 L449.1 54.3 L450.8 53.4 L452.5 52.5 L454.2 51.7 L455.9 50.9 L457.6 50.1 L459.3 49.3 L461.0 48.6 L462.7 47.8 L464.4 47.2 L466.1 46.5 L467.8 45.8 L469.5 45.2 L471.2 44.6 L472.9 44.1 L474.6 43.5 L476.3 43.0 L478.0 42.5 L479.7 42.1 L481.4 41.7 L483.1 41.3 L484.8 40.9 L486.5 40.6 L488.2 40.3 L489.9 40.1 L491.6 39.9 L493.3 39.7 L495.0 39.5 L496.7 39.4 L498.4 39.3 L500.1 39.2 L501.8 39.2 L503.6 39.2 L505.3 39.2 L507.0 39.3 L508.7 39.4 L510.4 39.5 L512.1 39.7 L513.8 39.9 L515.5 40.1 L517.2 40.3 L518.9 40.6 L520.6 40.9 L522.3 41.3 L524.0 41.7 L525.7 42.1 L527.4 42.5 L529.1 43.0 L530.8 43.5 L532.5 44.1 L534.2 44.6 L535.9 45.2 L537.6 45.8 L539.3 46.5 L541.0 47.2 L542.7 47.8 L544.4 48.6 L546.1 49.3 L547.8 50.1 L549.5 50.9 L551.2 51.7 L552.9 52.5 L554.6 53.4 L556.3 54.3 L558.0 55.3 L559.7 56.2 L561.4 57.2 L563.1 58.2 L564.8 59.2 L566.5 60.3 L568.2 61.4 L569.9 62.5 L571.7 63.6 L573.4 64.8 L575.1 66.0 L576.8 67.2 L578.5 68.4 L580.2 69.7 L581.9 70.9 L583.6 72.2 L585.3 73.5 L587.0 74.8 L588.7 76.1 L590.4 77.4 L592.1 78.8 L593.8 80.2 L595.5 81.6 L597.2 83.0 L598.9 84.4 L600.6 85.9 L602.3 87.4 L604.0 88.8 L605.7 90.3 L607.4 91.9 L609.1 93.4 L610.8 94.9 L612.5 96.5 L614.2 98.1 L615.9 99.6 L617.6 101.2 L619.3 102.8 L621.0 104.4 L622.7 106.0 L624.4 107.7 L626.1 109.3 L627.8 111.0 L629.5 112.6 L631.2 114.3 L632.9 116.0 L634.6 117.7 L636.3 119.4 L638.0 121.1 L639.8 122.8 L641.5 124.6 L643.2 126.4 L644.9 128.1 L646.6 129.9 L648.3 131.7 L650.0 133.5 L651.7 135.3 L653.4 137.1 L655.1 138.9 L656.8 140.7 L658.5 142.6 L660.2 144.4 L661.9 146.2 L663.6 147.9 L665.3 149.6 L667.0 151.3 L668.7 153.0 L670.4 154.6 L672.1 156.3 L673.8 157.9 L675.5 159.6 L677.2 161.3 L678.9 163.0 L680.6 164.8 L682.3 166.6 L684.0 168.5 L685.7 170.3 L687.4 172.2 L689.1 174.1 L690.8 175.9 L692.5 177.8 L694.2 179.7 L695.9 181.5 L697.6 183.4 L699.3 185.3 L701.0 187.2 L702.7 189.0 L704.4 190.9 L706.1 192.8 L707.9 194.7 L709.6 196.6 L711.3 198.5 L713.0 200.4 L714.7 202.3 L716.4 204.2 L718.1 206.1 L719.8 208.0 L721.5 209.8 L723.2 211.7 L724.9 213.6 L726.6 215.5 L728.3 217.4 L730.0 219.3 L731.7 221.2 L733.4 223.1 L735.1 225.0 L736.8 226.9 L738.5 228.8 L740.2 230.7 L741.9 232.6 L743.6 234.5 L745.3 236.4 L747.0 238.3 L748.7 240.2 L750.4 242.1 L752.1 244.0 L753.8 246.0 L755.5 247.9 L757.2 249.8 L758.9 251.7 L760.6 253.7 L762.3 255.6 L764.0 257.6 L765.7 259.5 L767.4 261.5 L769.1 263.5 L770.8 265.6 L772.5 267.6 L774.2 269.6 L776.0 271.7 L777.7 273.8 L779.4 275.9 L781.1 278.0 L782.8 280.1 L784.5 282.3 L786.2 284.5 L787.9 286.8 L789.6 289.1 L791.3 291.4 L793.0 293.8 L794.7 296.2 L796.4 298.6 L798.1 301.1 L799.8 303.5 L801.5 306.0 L803.2 308.5 L804.9 311.1 L806.6 313.8 L808.3 316.5 L810.0 319.3 L811.7 322.2 L813.4 325.2 L815.1 328.3 L816.8 331.5 L818.5 334.9 L820.2 338.4 L821.9 342.0 L823.6 345.7 L825.3 349.6 L827.0 353.6 L828.7 357.9 L830.4 362.5 L832.1 367.5 L833.8 372.9 L835.5 378.5 L837.2 384.1 L838.9 390.0 L840.6 396.5 L842.3 403.5 L844.1 410.8 L845.6 418.2 L846.9 426.7 L848.0 435.2 L849.1 443.6 L850.0 451.1 L850.8 458.3 L851.5 465.3 L852.1 473.4 L852.6 481.6 L853.1 489.9 L853.5 498.2 L853.8 506.5" fill="none" stroke="#ff0000" stroke-width="2.2"/>
</g>
<rect x="134.0" y="11.6" width="737.4" height="455.0" fill="none" stroke="#5c5c5c" stroke-width="1.2"/>
<path d="M148.9 466.6v-4.5M148.9 11.6v4.5M184.3 466.6v-2.5M184.3 11.6v2.5M219.7 466.6v-2.5M219.7 11.6v2.5M255.0 466.6v-2.5M255.0 11.6v2.5M290.4 466.6v-4.5M290.4 11.6v4.5M325.8 466.6v-2.5M325.8 11.6v2.5M361.2 466.6v-2.5M361.2 11.6v2.5M396.6 466.6v-2.5M396.6 11.6v2.5M431.9 466.6v-4.5M431.9 11.6v4.5M467.3 466.6v-2.5M467.3 11.6v2.5M502.7 466.6v-2.5M502.7 11.6v2.5M538.1 466.6v-2.5M538.1 11.6v2.5M573.5 466.6v-4.5M573.5 11.6v4.5M608.8 466.6v-2.5M608.8 11.6v2.5M644.2 466.6v-2.5M644.2 11.6v2.5M679.6 466.6v-2.5M679.6 11.6v2.5M715.0 466.6v-4.5M715.0 11.6v4.5M750.4 466.6v-2.5M750.4 11.6v2.5M785.7 466.6v-2.5M785.7 11.6v2.5M821.1 466.6v-2.5M821.1 11.6v2.5M856.5 466.6v-4.5M856.5 11.6v4.5M134.0 459.6h2.5M871.4 459.6h-2.5M134.0 444.4h4.5M871.4 444.4h-4.5M134.0 429.2h2.5M871.4 429.2h-2.5M134.0 414.0h2.5M871.4 414.0h-2.5M134.0 398.8h2.5M871.4 398.8h-2.5M134.0 383.6h4.5M871.4 383.6h-4.5M134.0 368.4h2.5M871.4 368.4h-2.5M134.0 353.2h2.5M871.4 353.2h-2.5M134.0 338.0h2.5M871.4 338.0h-2.5M134.0 322.8h4.5M871.4 322.8h-4.5M134.0 307.6h2.5M871.4 307.6h-2.5M134.0 292.4h2.5M871.4 292.4h-2.5M134.0 277.2h2.5M871.4 277.2h-2.5M134.0 262.0h4.5M871.4 262.0h-4.5M134.0 246.8h2.5M871.4 246.8h-2.5M134.0 231.6h2.5M871.4 231.6h-2.5M134.0 216.4h2.5M871.4 216.4h-2.5M134.0 201.2h4.5M871.4 201.2h-4.5M134.0 186.0h2.5M871.4 186.0h-2.5M134.0 170.8h2.5M871.4 170.8h-2.5M134.0 155.6h2.5M871.4 155.6h-2.5M134.0 140.4h4.5M871.4 140.4h-4.5M134.0 125.2h2.5M871.4 125.2h-2.5M134.0 110.0h2.5M871.4 110.0h-2.5M134.0 94.8h2.5M871.4 94.8h-2.5M134.0 79.6h4.5M871.4 79.6h-4.5M134.0 64.4h2.5M871.4 64.4h-2.5M134.0 49.2h2.5M871.4 49.2h-2.5M134.0 34.0h2.5M871.4 34.0h-2.5M134.0 18.8h4.5M871.4 18.8h-4.5" stroke="#5c5c5c" stroke-width="1" fill="none"/>
<text transform="translate(129.2 29.1) scale(0.931 1)" font-size="31.5" text-anchor="end">0.4</text>
<text transform="translate(129.2 89.9) scale(0.931 1)" font-size="31.5" text-anchor="end">0.2</text>
<text transform="translate(129.2 150.7) scale(0.931 1)" font-size="31.5" text-anchor="end">0.0</text>
<rect x="74.4" y="201.50" width="14.5" height="1.55" fill="#000"/>
<text transform="translate(129.2 211.5) scale(0.931 1)" font-size="31.5" text-anchor="end">0.2</text>
<rect x="74.4" y="262.30" width="14.5" height="1.55" fill="#000"/>
<text transform="translate(129.2 272.3) scale(0.931 1)" font-size="31.5" text-anchor="end">0.4</text>
<rect x="74.4" y="323.10" width="14.5" height="1.55" fill="#000"/>
<text transform="translate(129.2 333.1) scale(0.931 1)" font-size="31.5" text-anchor="end">0.6</text>
<rect x="74.4" y="383.90" width="14.5" height="1.55" fill="#000"/>
<text transform="translate(129.2 393.9) scale(0.931 1)" font-size="31.5" text-anchor="end">0.8</text>
<rect x="74.4" y="444.70" width="14.5" height="1.55" fill="#000"/>
<text transform="translate(129.2 454.7) scale(0.931 1)" font-size="31.5" text-anchor="end">1.0</text>
<text transform="translate(148.9 497.2) scale(0.931 1)" font-size="31.5" text-anchor="middle">0.0</text>
<text transform="translate(290.4 497.2) scale(0.931 1)" font-size="31.5" text-anchor="middle">0.2</text>
<text transform="translate(431.9 497.2) scale(0.931 1)" font-size="31.5" text-anchor="middle">0.4</text>
<text transform="translate(573.5 497.2) scale(0.931 1)" font-size="31.5" text-anchor="middle">0.6</text>
<text transform="translate(715.0 497.2) scale(0.931 1)" font-size="31.5" text-anchor="middle">0.8</text>
<text transform="translate(856.5 497.2) scale(0.931 1)" font-size="31.5" text-anchor="middle">1.0</text>
<text transform="translate(478.4 542.6) scale(1.000 1)" font-size="33.5" font-style="italic">ℓ</text>
<path d="M495.6 547.3L500.9 515.7" stroke="#000" stroke-width="2.0" fill="none"/>
<text transform="translate(508.8 542.4) scale(0.950 1)" font-size="37.5" font-style="italic">L</text>
<text transform="translate(454.0 298.7) scale(0.894 1)" font-size="28.0" font-style="italic">ℓ</text>
<text transform="translate(473.3 298.7) scale(1.070 1)" font-size="26.2">=</text>
<text transform="translate(497.8 298.7) scale(0.934 1)" font-size="28.2">100</text>
<text transform="translate(553.4 298.7) scale(0.894 1)" font-size="28.0" font-style="italic">ℓ</text>
<text transform="translate(572.7 298.7) scale(1.070 1)" font-size="26.2">=</text>
<text transform="translate(595.6 298.7) scale(0.934 1)" font-size="28.2">200</text>
<text transform="translate(364.6 329.1) scale(1.060 1)" font-size="26.2" font-style="italic">S</text>
<text transform="translate(381.0 335.0) scale(0.894 1)" font-size="18.5" font-style="italic">ψ</text>
<text transform="translate(399.3 330.7) scale(1.200 1)" font-size="26.2">−</text>
<text transform="translate(422.8 329.1) scale(1.060 1)" font-size="26.2" font-style="italic">S</text>
<text transform="translate(440.0 334.6) scale(0.894 1)" font-size="18.5" font-style="italic" letter-spacing="2.2">gs</text>
<text transform="translate(351.0 362.3) scale(0.894 1)" font-size="26.2" font-style="italic">M</text>
<text transform="translate(374.2 351.4) scale(0.894 1)" font-size="19.5">(2)</text>
<text transform="translate(372.8 370.5) scale(0.894 1)" font-size="18.5" font-style="italic">ψ</text>
<text transform="translate(403.0 364.2) scale(1.200 1)" font-size="26.2">−</text>
<text transform="translate(426.7 362.3) scale(0.894 1)" font-size="26.2" font-style="italic">M</text>
<text transform="translate(449.4 351.4) scale(0.894 1)" font-size="19.5">(2)</text>
<text transform="translate(448.2 369.2) scale(0.894 1)" font-size="18.5" font-style="italic" letter-spacing="2.2">gs</text>
<text transform="translate(357.6 398.5) scale(1.060 1)" font-size="26.2" font-style="italic">S</text>
<text transform="translate(374.2 387.6) scale(0.894 1)" font-size="19.5">(2)</text>
<text transform="translate(372.8 406.7) scale(0.894 1)" font-size="18.5" font-style="italic">ψ</text>
<text transform="translate(403.0 400.1) scale(1.200 1)" font-size="26.2">−</text>
<text transform="translate(426.0 398.5) scale(1.060 1)" font-size="26.2" font-style="italic">S</text>
<text transform="translate(442.4 387.6) scale(0.894 1)" font-size="19.5">(2)</text>
<text transform="translate(442.0 404.8) scale(0.894 1)" font-size="18.5" font-style="italic" letter-spacing="2.2">gs</text>
<text transform="translate(357.6 438.3) scale(1.060 1)" font-size="26.2" font-style="italic">S</text>
<text transform="translate(374.2 427.4) scale(0.894 1)" font-size="19.5">(3)</text>
<text transform="translate(372.8 446.5) scale(0.894 1)" font-size="18.5" font-style="italic">ψ</text>
<text transform="translate(403.0 439.9) scale(1.200 1)" font-size="26.2">−</text>
<text transform="translate(426.0 438.3) scale(1.060 1)" font-size="26.2" font-style="italic">S</text>
<text transform="translate(442.4 427.4) scale(0.894 1)" font-size="19.5">(3)</text>
<text transform="translate(442.0 444.6) scale(0.894 1)" font-size="18.5" font-style="italic" letter-spacing="2.2">gs</text>
<use href="#mA" x="496.4" y="322.1"/>
<use href="#mB" x="592.3" y="322.6"/>
<use href="#mC" x="496.7" y="355.5"/>
<use href="#mD2" x="592.3" y="355.5"/>
<use href="#mE" x="496.4" y="392.2"/>
<use href="#mF" x="591.8" y="392.2"/>
<use href="#mG" x="496.4" y="432.3"/>
<use href="#mH" x="591.8" y="431.3"/>
</svg></body></html>
